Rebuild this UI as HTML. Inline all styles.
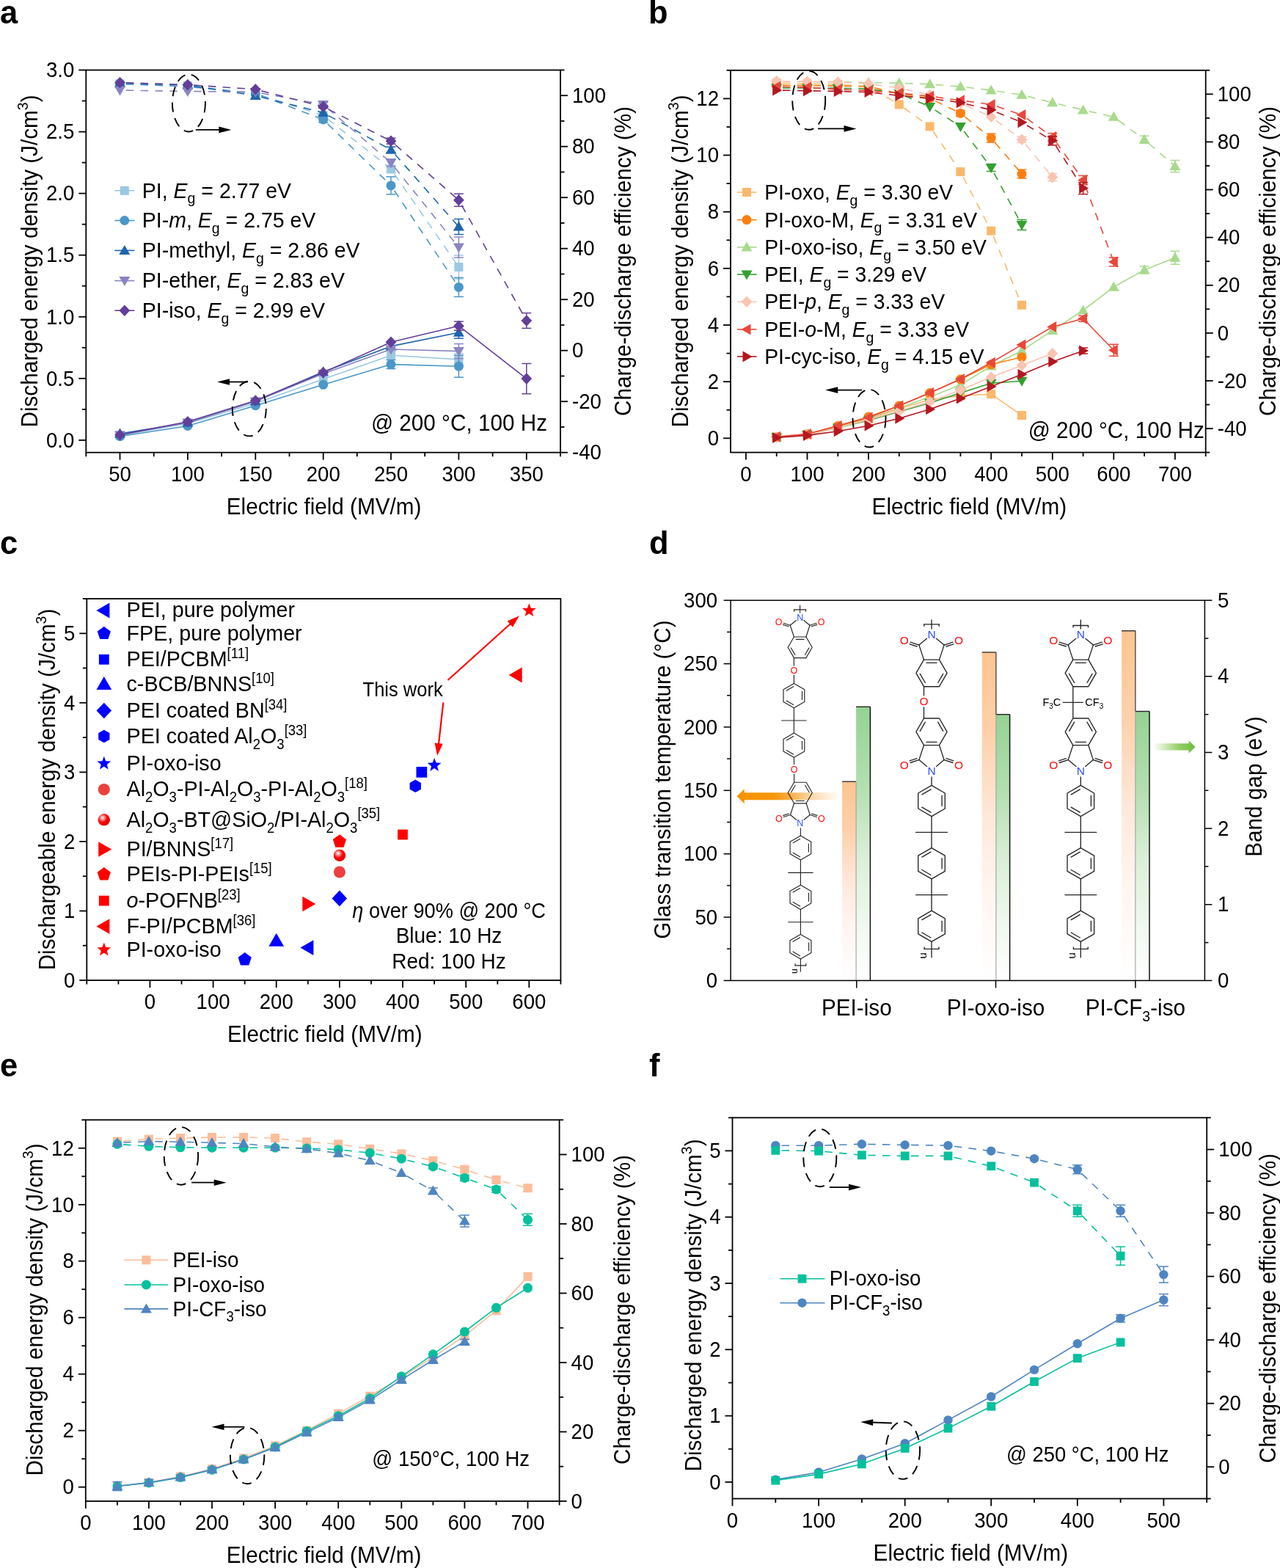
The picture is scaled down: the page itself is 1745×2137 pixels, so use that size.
<!DOCTYPE html>
<html><head><meta charset="utf-8"><title>Figure</title>
<style>html,body{margin:0;padding:0;background:#fff;} svg{display:block;} text{font-family:'Liberation Sans', Arial, Helvetica, sans-serif;fill:#000;}</style>
</head><body>
<svg width="1745" height="2137" viewBox="0 0 1745 2137">
<defs>
<radialGradient id="gSph" cx="0.38" cy="0.33" r="0.7"><stop offset="0" stop-color="#ffffff"/><stop offset="0.28" stop-color="#ff8080"/><stop offset="0.55" stop-color="#ff0000"/><stop offset="1" stop-color="#e00000"/></radialGradient>
<linearGradient id="gOr" x1="0" y1="0" x2="0" y2="1"><stop offset="0" stop-color="#fdc490"/><stop offset="0.25" stop-color="#fdd1ac"/><stop offset="0.5" stop-color="#fee8da"/><stop offset="0.72" stop-color="#fff5f0"/><stop offset="1" stop-color="#ffffff"/></linearGradient>
<linearGradient id="gGr" x1="0" y1="0" x2="0" y2="1"><stop offset="0" stop-color="#94d393"/><stop offset="0.3" stop-color="#b5dfb2"/><stop offset="0.55" stop-color="#dbefd8"/><stop offset="0.78" stop-color="#eff8ee"/><stop offset="1" stop-color="#ffffff"/></linearGradient>
<linearGradient id="gArO" x1="1" y1="0" x2="0" y2="0"><stop offset="0" stop-color="#f8a030" stop-opacity="0"/><stop offset="0.3" stop-color="#f8a030" stop-opacity="0.45"/><stop offset="0.5" stop-color="#f89a18" stop-opacity="0.85"/><stop offset="0.65" stop-color="#f7960c"/><stop offset="1" stop-color="#f79300"/></linearGradient>
<linearGradient id="gArG" x1="0" y1="0" x2="1" y2="0"><stop offset="0" stop-color="#7cc242" stop-opacity="0"/><stop offset="0.6" stop-color="#7cc242" stop-opacity="0.8"/><stop offset="1" stop-color="#6cbb3c"/></linearGradient>
</defs>
<rect width="1745" height="2137" fill="#fff"/>
<text transform="translate(0,32) scale(1,1.04)" font-size="43.5" font-weight="bold">a</text>
<rect x="117.3" y="95.5" width="646.7" height="521.2" fill="none" stroke="#000" stroke-width="1.8"/>
<line x1="117.3" y1="616.7" x2="117.3" y2="622.2" stroke="#000" stroke-width="1.8" />
<line x1="209.7" y1="616.7" x2="209.7" y2="622.2" stroke="#000" stroke-width="1.8" />
<line x1="302.1" y1="616.7" x2="302.1" y2="622.2" stroke="#000" stroke-width="1.8" />
<line x1="394.5" y1="616.7" x2="394.5" y2="622.2" stroke="#000" stroke-width="1.8" />
<line x1="486.8" y1="616.7" x2="486.8" y2="622.2" stroke="#000" stroke-width="1.8" />
<line x1="579.2" y1="616.7" x2="579.2" y2="622.2" stroke="#000" stroke-width="1.8" />
<line x1="671.6" y1="616.7" x2="671.6" y2="622.2" stroke="#000" stroke-width="1.8" />
<line x1="764" y1="616.7" x2="764" y2="622.2" stroke="#000" stroke-width="1.8" />
<line x1="163.5" y1="616.7" x2="163.5" y2="626.7" stroke="#000" stroke-width="1.8" />
<text transform="translate(163.5,655.7) scale(1,1.06)" font-size="27.6" text-anchor="middle" >50</text>
<line x1="255.9" y1="616.7" x2="255.9" y2="626.7" stroke="#000" stroke-width="1.8" />
<text transform="translate(255.9,655.7) scale(1,1.06)" font-size="27.6" text-anchor="middle" >100</text>
<line x1="348.3" y1="616.7" x2="348.3" y2="626.7" stroke="#000" stroke-width="1.8" />
<text transform="translate(348.3,655.7) scale(1,1.06)" font-size="27.6" text-anchor="middle" >150</text>
<line x1="440.7" y1="616.7" x2="440.7" y2="626.7" stroke="#000" stroke-width="1.8" />
<text transform="translate(440.7,655.7) scale(1,1.06)" font-size="27.6" text-anchor="middle" >200</text>
<line x1="533" y1="616.7" x2="533" y2="626.7" stroke="#000" stroke-width="1.8" />
<text transform="translate(533,655.7) scale(1,1.06)" font-size="27.6" text-anchor="middle" >250</text>
<line x1="625.4" y1="616.7" x2="625.4" y2="626.7" stroke="#000" stroke-width="1.8" />
<text transform="translate(625.4,655.7) scale(1,1.06)" font-size="27.6" text-anchor="middle" >300</text>
<line x1="717.8" y1="616.7" x2="717.8" y2="626.7" stroke="#000" stroke-width="1.8" />
<text transform="translate(717.8,655.7) scale(1,1.06)" font-size="27.6" text-anchor="middle" >350</text>
<line x1="117.3" y1="557.9" x2="111.8" y2="557.9" stroke="#000" stroke-width="1.8" />
<line x1="117.3" y1="473.8" x2="111.8" y2="473.8" stroke="#000" stroke-width="1.8" />
<line x1="117.3" y1="389.7" x2="111.8" y2="389.7" stroke="#000" stroke-width="1.8" />
<line x1="117.3" y1="305.7" x2="111.8" y2="305.7" stroke="#000" stroke-width="1.8" />
<line x1="117.3" y1="221.6" x2="111.8" y2="221.6" stroke="#000" stroke-width="1.8" />
<line x1="117.3" y1="137.5" x2="111.8" y2="137.5" stroke="#000" stroke-width="1.8" />
<line x1="117.3" y1="599.9" x2="107.3" y2="599.9" stroke="#000" stroke-width="1.8" />
<text transform="translate(101.3,609.6) scale(1,1.06)" font-size="27.6" text-anchor="end" >0.0</text>
<line x1="117.3" y1="515.8" x2="107.3" y2="515.8" stroke="#000" stroke-width="1.8" />
<text transform="translate(101.3,525.5) scale(1,1.06)" font-size="27.6" text-anchor="end" >0.5</text>
<line x1="117.3" y1="431.8" x2="107.3" y2="431.8" stroke="#000" stroke-width="1.8" />
<text transform="translate(101.3,441.5) scale(1,1.06)" font-size="27.6" text-anchor="end" >1.0</text>
<line x1="117.3" y1="347.7" x2="107.3" y2="347.7" stroke="#000" stroke-width="1.8" />
<text transform="translate(101.3,357.4) scale(1,1.06)" font-size="27.6" text-anchor="end" >1.5</text>
<line x1="117.3" y1="263.6" x2="107.3" y2="263.6" stroke="#000" stroke-width="1.8" />
<text transform="translate(101.3,273.3) scale(1,1.06)" font-size="27.6" text-anchor="end" >2.0</text>
<line x1="117.3" y1="179.6" x2="107.3" y2="179.6" stroke="#000" stroke-width="1.8" />
<text transform="translate(101.3,189.3) scale(1,1.06)" font-size="27.6" text-anchor="end" >2.5</text>
<line x1="117.3" y1="95.5" x2="107.3" y2="95.5" stroke="#000" stroke-width="1.8" />
<text transform="translate(101.3,105.2) scale(1,1.06)" font-size="27.6" text-anchor="end" >3.0</text>
<line x1="764" y1="582" x2="769.5" y2="582" stroke="#000" stroke-width="1.8" />
<line x1="764" y1="512.5" x2="769.5" y2="512.5" stroke="#000" stroke-width="1.8" />
<line x1="764" y1="443" x2="769.5" y2="443" stroke="#000" stroke-width="1.8" />
<line x1="764" y1="373.5" x2="769.5" y2="373.5" stroke="#000" stroke-width="1.8" />
<line x1="764" y1="304" x2="769.5" y2="304" stroke="#000" stroke-width="1.8" />
<line x1="764" y1="234.5" x2="769.5" y2="234.5" stroke="#000" stroke-width="1.8" />
<line x1="764" y1="165" x2="769.5" y2="165" stroke="#000" stroke-width="1.8" />
<line x1="764" y1="95.5" x2="769.5" y2="95.5" stroke="#000" stroke-width="1.8" />
<line x1="764" y1="616.7" x2="774" y2="616.7" stroke="#000" stroke-width="1.8" />
<text transform="translate(780,626.4) scale(1,1.06)" font-size="27.6" text-anchor="start" >-40</text>
<line x1="764" y1="547.2" x2="774" y2="547.2" stroke="#000" stroke-width="1.8" />
<text transform="translate(780,556.9) scale(1,1.06)" font-size="27.6" text-anchor="start" >-20</text>
<line x1="764" y1="477.7" x2="774" y2="477.7" stroke="#000" stroke-width="1.8" />
<text transform="translate(780,487.4) scale(1,1.06)" font-size="27.6" text-anchor="start" >0</text>
<line x1="764" y1="408.2" x2="774" y2="408.2" stroke="#000" stroke-width="1.8" />
<text transform="translate(780,417.9) scale(1,1.06)" font-size="27.6" text-anchor="start" >20</text>
<line x1="764" y1="338.7" x2="774" y2="338.7" stroke="#000" stroke-width="1.8" />
<text transform="translate(780,348.4) scale(1,1.06)" font-size="27.6" text-anchor="start" >40</text>
<line x1="764" y1="269.2" x2="774" y2="269.2" stroke="#000" stroke-width="1.8" />
<text transform="translate(780,278.9) scale(1,1.06)" font-size="27.6" text-anchor="start" >60</text>
<line x1="764" y1="199.7" x2="774" y2="199.7" stroke="#000" stroke-width="1.8" />
<text transform="translate(780,209.4) scale(1,1.06)" font-size="27.6" text-anchor="start" >80</text>
<line x1="764" y1="130.2" x2="774" y2="130.2" stroke="#000" stroke-width="1.8" />
<text transform="translate(780,139.9) scale(1,1.06)" font-size="27.6" text-anchor="start" >100</text>
<text transform="translate(441.6,701.2) scale(1,1.06)" font-size="29.7" text-anchor="middle" >Electric field (MV/m)</text>
<text transform="translate(50.6,356) rotate(-90) scale(1,1.06)" font-size="29.7" text-anchor="middle">Discharged energy density (J/cm<tspan font-size="19.5" dy="-12">3</tspan><tspan dy="12">)</tspan></text>
<text transform="translate(859.7,356) rotate(-90) scale(1,1.06)" font-size="29.7" text-anchor="middle">Charge-discharge efficiency (%)</text>
<path d="M163.5,114.3L255.9,117M255.9,117L348.3,127.4M348.3,127.4L440.7,157.4M440.7,157.4L533,230.4M533,230.4L625.4,364" fill="none" stroke="#9cc8e2" stroke-width="1.6" stroke-dasharray="10.5,9.3" stroke-dashoffset="11.5"/>
<line x1="440.7" y1="155.4" x2="440.7" y2="159.4" stroke="#9cc8e2" stroke-width="1.5" />
<line x1="434.2" y1="155.4" x2="447.2" y2="155.4" stroke="#9cc8e2" stroke-width="1.5" />
<line x1="434.2" y1="159.4" x2="447.2" y2="159.4" stroke="#9cc8e2" stroke-width="1.5" />
<line x1="533" y1="225.4" x2="533" y2="235.4" stroke="#9cc8e2" stroke-width="1.5" />
<line x1="526.5" y1="225.4" x2="539.5" y2="225.4" stroke="#9cc8e2" stroke-width="1.5" />
<line x1="526.5" y1="235.4" x2="539.5" y2="235.4" stroke="#9cc8e2" stroke-width="1.5" />
<line x1="625.4" y1="348" x2="625.4" y2="380" stroke="#9cc8e2" stroke-width="1.5" />
<line x1="618.9" y1="348" x2="631.9" y2="348" stroke="#9cc8e2" stroke-width="1.5" />
<line x1="618.9" y1="380" x2="631.9" y2="380" stroke="#9cc8e2" stroke-width="1.5" />
<rect x="157.5" y="108.3" width="12" height="12" fill="#9cc8e2"/>
<rect x="249.9" y="111" width="12" height="12" fill="#9cc8e2"/>
<rect x="342.3" y="121.4" width="12" height="12" fill="#9cc8e2"/>
<rect x="434.7" y="151.4" width="12" height="12" fill="#9cc8e2"/>
<rect x="527.1" y="224.4" width="12" height="12" fill="#9cc8e2"/>
<rect x="619.4" y="358" width="12" height="12" fill="#9cc8e2"/>
<path d="M163.5,114.3L255.9,118M255.9,118L348.3,127.4M348.3,127.4L440.7,163M440.7,163L533,252.9M533,252.9L625.4,391.4" fill="none" stroke="#4a97c9" stroke-width="1.6" stroke-dasharray="10.5,9.3" stroke-dashoffset="11.5"/>
<line x1="440.7" y1="159" x2="440.7" y2="167" stroke="#4a97c9" stroke-width="1.5" />
<line x1="434.2" y1="159" x2="447.2" y2="159" stroke="#4a97c9" stroke-width="1.5" />
<line x1="434.2" y1="167" x2="447.2" y2="167" stroke="#4a97c9" stroke-width="1.5" />
<line x1="533" y1="240.9" x2="533" y2="264.9" stroke="#4a97c9" stroke-width="1.5" />
<line x1="526.5" y1="240.9" x2="539.5" y2="240.9" stroke="#4a97c9" stroke-width="1.5" />
<line x1="526.5" y1="264.9" x2="539.5" y2="264.9" stroke="#4a97c9" stroke-width="1.5" />
<line x1="625.4" y1="378.4" x2="625.4" y2="404.4" stroke="#4a97c9" stroke-width="1.5" />
<line x1="618.9" y1="378.4" x2="631.9" y2="378.4" stroke="#4a97c9" stroke-width="1.5" />
<line x1="618.9" y1="404.4" x2="631.9" y2="404.4" stroke="#4a97c9" stroke-width="1.5" />
<circle cx="163.5" cy="114.3" r="6.5" fill="#4a97c9"/>
<circle cx="255.9" cy="118" r="6.5" fill="#4a97c9"/>
<circle cx="348.3" cy="127.4" r="6.5" fill="#4a97c9"/>
<circle cx="440.7" cy="163" r="6.5" fill="#4a97c9"/>
<circle cx="533" cy="252.9" r="6.5" fill="#4a97c9"/>
<circle cx="625.4" cy="391.4" r="6.5" fill="#4a97c9"/>
<path d="M163.5,113.2L255.9,116M255.9,116L348.3,130.4M348.3,130.4L440.7,153.6M440.7,153.6L533,204.2M533,204.2L625.4,309" fill="none" stroke="#1f64ae" stroke-width="1.6" stroke-dasharray="10.5,9.3" stroke-dashoffset="11.5"/>
<line x1="533" y1="200.2" x2="533" y2="208.2" stroke="#1f64ae" stroke-width="1.5" />
<line x1="526.5" y1="200.2" x2="539.5" y2="200.2" stroke="#1f64ae" stroke-width="1.5" />
<line x1="526.5" y1="208.2" x2="539.5" y2="208.2" stroke="#1f64ae" stroke-width="1.5" />
<line x1="625.4" y1="298.5" x2="625.4" y2="319.5" stroke="#1f64ae" stroke-width="1.5" />
<line x1="618.9" y1="298.5" x2="631.9" y2="298.5" stroke="#1f64ae" stroke-width="1.5" />
<line x1="618.9" y1="319.5" x2="631.9" y2="319.5" stroke="#1f64ae" stroke-width="1.5" />
<polygon points="163.5,105.7 156,118.7 171,118.7" fill="#1f64ae"/>
<polygon points="255.9,108.5 248.4,121.5 263.4,121.5" fill="#1f64ae"/>
<polygon points="348.3,122.9 340.8,135.9 355.7,135.9" fill="#1f64ae"/>
<polygon points="440.7,146.1 433.2,159.1 448.1,159.1" fill="#1f64ae"/>
<polygon points="533,196.7 525.6,209.7 540.5,209.7" fill="#1f64ae"/>
<polygon points="625.4,301.5 617.9,314.5 632.9,314.5" fill="#1f64ae"/>
<path d="M163.5,123L255.9,124.4M255.9,124.4L348.3,125.6M348.3,125.6L440.7,142.4M440.7,142.4L533,221.8M533,221.8L625.4,337" fill="none" stroke="#8a85c2" stroke-width="1.6" stroke-dasharray="10.5,9.3" stroke-dashoffset="11.5"/>
<line x1="440.7" y1="139.4" x2="440.7" y2="145.4" stroke="#8a85c2" stroke-width="1.5" />
<line x1="434.2" y1="139.4" x2="447.2" y2="139.4" stroke="#8a85c2" stroke-width="1.5" />
<line x1="434.2" y1="145.4" x2="447.2" y2="145.4" stroke="#8a85c2" stroke-width="1.5" />
<line x1="533" y1="216.8" x2="533" y2="226.8" stroke="#8a85c2" stroke-width="1.5" />
<line x1="526.5" y1="216.8" x2="539.5" y2="216.8" stroke="#8a85c2" stroke-width="1.5" />
<line x1="526.5" y1="226.8" x2="539.5" y2="226.8" stroke="#8a85c2" stroke-width="1.5" />
<line x1="625.4" y1="323" x2="625.4" y2="351" stroke="#8a85c2" stroke-width="1.5" />
<line x1="618.9" y1="323" x2="631.9" y2="323" stroke="#8a85c2" stroke-width="1.5" />
<line x1="618.9" y1="351" x2="631.9" y2="351" stroke="#8a85c2" stroke-width="1.5" />
<polygon points="163.5,130.5 156,117.5 171,117.5" fill="#8a85c2"/>
<polygon points="255.9,131.9 248.4,118.9 263.4,118.9" fill="#8a85c2"/>
<polygon points="348.3,133.1 340.8,120.1 355.7,120.1" fill="#8a85c2"/>
<polygon points="440.7,149.9 433.2,136.9 448.1,136.9" fill="#8a85c2"/>
<polygon points="533,229.3 525.6,216.3 540.5,216.3" fill="#8a85c2"/>
<polygon points="625.4,344.5 617.9,331.5 632.9,331.5" fill="#8a85c2"/>
<path d="M163.5,112.5L255.9,115.5M255.9,115.5L348.3,121.8M348.3,121.8L440.7,145.4M440.7,145.4L533,192.2M533,192.2L625.4,272.7M625.4,272.7L717.8,437" fill="none" stroke="#623f99" stroke-width="1.6" stroke-dasharray="10.5,9.3" stroke-dashoffset="11.5"/>
<line x1="440.7" y1="143.4" x2="440.7" y2="147.4" stroke="#623f99" stroke-width="1.5" />
<line x1="434.2" y1="143.4" x2="447.2" y2="143.4" stroke="#623f99" stroke-width="1.5" />
<line x1="434.2" y1="147.4" x2="447.2" y2="147.4" stroke="#623f99" stroke-width="1.5" />
<line x1="533" y1="188.2" x2="533" y2="196.2" stroke="#623f99" stroke-width="1.5" />
<line x1="526.5" y1="188.2" x2="539.5" y2="188.2" stroke="#623f99" stroke-width="1.5" />
<line x1="526.5" y1="196.2" x2="539.5" y2="196.2" stroke="#623f99" stroke-width="1.5" />
<line x1="625.4" y1="264.1" x2="625.4" y2="281.3" stroke="#623f99" stroke-width="1.5" />
<line x1="618.9" y1="264.1" x2="631.9" y2="264.1" stroke="#623f99" stroke-width="1.5" />
<line x1="618.9" y1="281.3" x2="631.9" y2="281.3" stroke="#623f99" stroke-width="1.5" />
<line x1="717.8" y1="426.6" x2="717.8" y2="447.4" stroke="#623f99" stroke-width="1.5" />
<line x1="711.3" y1="426.6" x2="724.3" y2="426.6" stroke="#623f99" stroke-width="1.5" />
<line x1="711.3" y1="447.4" x2="724.3" y2="447.4" stroke="#623f99" stroke-width="1.5" />
<polygon points="163.5,104.7 170.9,112.5 163.5,120.3 156.1,112.5" fill="#623f99"/>
<polygon points="255.9,107.7 263.3,115.5 255.9,123.3 248.5,115.5" fill="#623f99"/>
<polygon points="348.3,114 355.7,121.8 348.3,129.6 340.9,121.8" fill="#623f99"/>
<polygon points="440.7,137.6 448.1,145.4 440.7,153.2 433.2,145.4" fill="#623f99"/>
<polygon points="533,184.4 540.4,192.2 533,200 525.6,192.2" fill="#623f99"/>
<polygon points="625.4,264.9 632.8,272.7 625.4,280.5 618,272.7" fill="#623f99"/>
<polygon points="717.8,429.2 725.2,437 717.8,444.8 710.4,437" fill="#623f99"/>
<polyline points="163.5,593.5 255.9,577 348.3,549.8 440.7,516.8 533,484.2 625.4,489.9" fill="none" stroke="#9cc8e2" stroke-width="1.6" stroke-linejoin="round"/>
<line x1="533" y1="478.2" x2="533" y2="490.2" stroke="#9cc8e2" stroke-width="1.5" />
<line x1="526.5" y1="478.2" x2="539.5" y2="478.2" stroke="#9cc8e2" stroke-width="1.5" />
<line x1="526.5" y1="490.2" x2="539.5" y2="490.2" stroke="#9cc8e2" stroke-width="1.5" />
<line x1="625.4" y1="481.9" x2="625.4" y2="497.9" stroke="#9cc8e2" stroke-width="1.5" />
<line x1="618.9" y1="481.9" x2="631.9" y2="481.9" stroke="#9cc8e2" stroke-width="1.5" />
<line x1="618.9" y1="497.9" x2="631.9" y2="497.9" stroke="#9cc8e2" stroke-width="1.5" />
<rect x="157.5" y="587.5" width="12" height="12" fill="#9cc8e2"/>
<rect x="249.9" y="571" width="12" height="12" fill="#9cc8e2"/>
<rect x="342.3" y="543.8" width="12" height="12" fill="#9cc8e2"/>
<rect x="434.7" y="510.8" width="12" height="12" fill="#9cc8e2"/>
<rect x="527.1" y="478.2" width="12" height="12" fill="#9cc8e2"/>
<rect x="619.4" y="483.9" width="12" height="12" fill="#9cc8e2"/>
<polyline points="163.5,594.7 255.9,580.5 348.3,552.7 440.7,524.3 533,496.6 625.4,499.2" fill="none" stroke="#4a97c9" stroke-width="1.6" stroke-linejoin="round"/>
<line x1="533" y1="490.6" x2="533" y2="502.6" stroke="#4a97c9" stroke-width="1.5" />
<line x1="526.5" y1="490.6" x2="539.5" y2="490.6" stroke="#4a97c9" stroke-width="1.5" />
<line x1="526.5" y1="502.6" x2="539.5" y2="502.6" stroke="#4a97c9" stroke-width="1.5" />
<line x1="625.4" y1="484.2" x2="625.4" y2="514.2" stroke="#4a97c9" stroke-width="1.5" />
<line x1="618.9" y1="484.2" x2="631.9" y2="484.2" stroke="#4a97c9" stroke-width="1.5" />
<line x1="618.9" y1="514.2" x2="631.9" y2="514.2" stroke="#4a97c9" stroke-width="1.5" />
<circle cx="163.5" cy="594.7" r="6.5" fill="#4a97c9"/>
<circle cx="255.9" cy="580.5" r="6.5" fill="#4a97c9"/>
<circle cx="348.3" cy="552.7" r="6.5" fill="#4a97c9"/>
<circle cx="440.7" cy="524.3" r="6.5" fill="#4a97c9"/>
<circle cx="533" cy="496.6" r="6.5" fill="#4a97c9"/>
<circle cx="625.4" cy="499.2" r="6.5" fill="#4a97c9"/>
<polyline points="163.5,591 255.9,576 348.3,546.8 440.7,506.7 533,471.9 625.4,453.2" fill="none" stroke="#1f64ae" stroke-width="1.6" stroke-linejoin="round"/>
<line x1="625.4" y1="445.2" x2="625.4" y2="461.2" stroke="#1f64ae" stroke-width="1.5" />
<line x1="618.9" y1="445.2" x2="631.9" y2="445.2" stroke="#1f64ae" stroke-width="1.5" />
<line x1="618.9" y1="461.2" x2="631.9" y2="461.2" stroke="#1f64ae" stroke-width="1.5" />
<polygon points="163.5,583.5 156,596.5 171,596.5" fill="#1f64ae"/>
<polygon points="255.9,568.5 248.4,581.5 263.4,581.5" fill="#1f64ae"/>
<polygon points="348.3,539.3 340.8,552.3 355.7,552.3" fill="#1f64ae"/>
<polygon points="440.7,499.2 433.2,512.2 448.1,512.2" fill="#1f64ae"/>
<polygon points="533,464.4 525.6,477.4 540.5,477.4" fill="#1f64ae"/>
<polygon points="625.4,445.7 617.9,458.7 632.9,458.7" fill="#1f64ae"/>
<polyline points="163.5,593 255.9,576 348.3,547 440.7,509.3 533,476 625.4,478.6" fill="none" stroke="#8a85c2" stroke-width="1.6" stroke-linejoin="round"/>
<line x1="625.4" y1="468.6" x2="625.4" y2="488.6" stroke="#8a85c2" stroke-width="1.5" />
<line x1="618.9" y1="468.6" x2="631.9" y2="468.6" stroke="#8a85c2" stroke-width="1.5" />
<line x1="618.9" y1="488.6" x2="631.9" y2="488.6" stroke="#8a85c2" stroke-width="1.5" />
<polygon points="163.5,600.5 156,587.5 171,587.5" fill="#8a85c2"/>
<polygon points="255.9,583.5 248.4,570.5 263.4,570.5" fill="#8a85c2"/>
<polygon points="348.3,554.5 340.8,541.5 355.7,541.5" fill="#8a85c2"/>
<polygon points="440.7,516.8 433.2,503.8 448.1,503.8" fill="#8a85c2"/>
<polygon points="533,483.5 525.6,470.5 540.5,470.5" fill="#8a85c2"/>
<polygon points="625.4,486.1 617.9,473.1 632.9,473.1" fill="#8a85c2"/>
<polyline points="163.5,592.8 255.9,574.8 348.3,546 440.7,507.8 533,466.3 625.4,444.2 717.8,516.1" fill="none" stroke="#623f99" stroke-width="1.6" stroke-linejoin="round"/>
<line x1="625.4" y1="438.2" x2="625.4" y2="450.2" stroke="#623f99" stroke-width="1.5" />
<line x1="618.9" y1="438.2" x2="631.9" y2="438.2" stroke="#623f99" stroke-width="1.5" />
<line x1="618.9" y1="450.2" x2="631.9" y2="450.2" stroke="#623f99" stroke-width="1.5" />
<line x1="717.8" y1="495.5" x2="717.8" y2="536.7" stroke="#623f99" stroke-width="1.5" />
<line x1="711.3" y1="495.5" x2="724.3" y2="495.5" stroke="#623f99" stroke-width="1.5" />
<line x1="711.3" y1="536.7" x2="724.3" y2="536.7" stroke="#623f99" stroke-width="1.5" />
<polygon points="163.5,585 170.9,592.8 163.5,600.6 156.1,592.8" fill="#623f99"/>
<polygon points="255.9,567 263.3,574.8 255.9,582.6 248.5,574.8" fill="#623f99"/>
<polygon points="348.3,538.2 355.7,546 348.3,553.8 340.9,546" fill="#623f99"/>
<polygon points="440.7,500 448.1,507.8 440.7,515.6 433.2,507.8" fill="#623f99"/>
<polygon points="533,458.5 540.4,466.3 533,474.1 525.6,466.3" fill="#623f99"/>
<polygon points="625.4,436.4 632.8,444.2 625.4,452 618,444.2" fill="#623f99"/>
<polygon points="717.8,508.3 725.2,516.1 717.8,523.9 710.4,516.1" fill="#623f99"/>
<ellipse cx="257.4" cy="140.5" rx="22.5" ry="39" fill="none" stroke="#000" stroke-width="1.9" stroke-dasharray="13,8.5"/>
<line x1="266.8" y1="176.9" x2="300.4" y2="176.9" stroke="#000" stroke-width="1.8" />
<polygon points="315.4,176.9 298.4,181.2 298.4,172.6" fill="#000"/>
<ellipse cx="339.8" cy="557" rx="23" ry="37.4" fill="none" stroke="#000" stroke-width="1.9" stroke-dasharray="13,8.5"/>
<line x1="338" y1="520.5" x2="311" y2="520.5" stroke="#000" stroke-width="1.8" />
<polygon points="296,520.5 313,516.2 313,524.8" fill="#000"/>
<line x1="156.3" y1="259.8" x2="183.4" y2="259.8" stroke="#9cc8e2" stroke-width="1.6" />
<rect x="163.8" y="253.8" width="12" height="12" fill="#9cc8e2"/>
<text transform="translate(193.8,269.5) scale(1,1.06)" font-size="28.5" text-anchor="start" >PI, <tspan font-style="italic">E</tspan><tspan font-size="19.5" dy="7.4">g</tspan><tspan dy="-7.4"> = 2.77 eV</tspan></text>
<line x1="156.3" y1="300.5" x2="183.4" y2="300.5" stroke="#4a97c9" stroke-width="1.6" />
<circle cx="169.8" cy="300.5" r="6.5" fill="#4a97c9"/>
<text transform="translate(193.8,310.2) scale(1,1.06)" font-size="28.5" text-anchor="start" >PI-<tspan font-style="italic">m</tspan>, <tspan font-style="italic">E</tspan><tspan font-size="19.5" dy="7.4">g</tspan><tspan dy="-7.4"> = 2.75 eV</tspan></text>
<line x1="156.3" y1="341.4" x2="183.4" y2="341.4" stroke="#1f64ae" stroke-width="1.6" />
<polygon points="169.8,333.9 162.3,346.9 177.3,346.9" fill="#1f64ae"/>
<text transform="translate(193.8,351.1) scale(1,1.06)" font-size="28.5" text-anchor="start" >PI-methyl, <tspan font-style="italic">E</tspan><tspan font-size="19.5" dy="7.4">g</tspan><tspan dy="-7.4"> = 2.86 eV</tspan></text>
<line x1="156.3" y1="382.6" x2="183.4" y2="382.6" stroke="#8a85c2" stroke-width="1.6" />
<polygon points="169.8,390.1 162.3,377.1 177.3,377.1" fill="#8a85c2"/>
<text transform="translate(193.8,392.3) scale(1,1.06)" font-size="28.5" text-anchor="start" >PI-ether, <tspan font-style="italic">E</tspan><tspan font-size="19.5" dy="7.4">g</tspan><tspan dy="-7.4"> = 2.83 eV</tspan></text>
<line x1="156.3" y1="423.2" x2="183.4" y2="423.2" stroke="#623f99" stroke-width="1.6" />
<polygon points="169.8,415.4 177.2,423.2 169.8,431 162.4,423.2" fill="#623f99"/>
<text transform="translate(193.8,432.9) scale(1,1.06)" font-size="28.5" text-anchor="start" >PI-iso, <tspan font-style="italic">E</tspan><tspan font-size="19.5" dy="7.4">g</tspan><tspan dy="-7.4"> = 2.99 eV</tspan></text>
<text transform="translate(746,586.5) scale(1,1.06)" font-size="29.7" text-anchor="end" >@ 200 °C, 100 Hz</text>
<text transform="translate(884,32) scale(1,1.04)" font-size="43.5" font-weight="bold">b</text>
<rect x="996" y="95.8" width="647.7" height="520.8" fill="none" stroke="#000" stroke-width="1.8"/>
<line x1="1058.7" y1="616.6" x2="1058.7" y2="622.1" stroke="#000" stroke-width="1.8" />
<line x1="1142.3" y1="616.6" x2="1142.3" y2="622.1" stroke="#000" stroke-width="1.8" />
<line x1="1225.8" y1="616.6" x2="1225.8" y2="622.1" stroke="#000" stroke-width="1.8" />
<line x1="1309.4" y1="616.6" x2="1309.4" y2="622.1" stroke="#000" stroke-width="1.8" />
<line x1="1393" y1="616.6" x2="1393" y2="622.1" stroke="#000" stroke-width="1.8" />
<line x1="1476.6" y1="616.6" x2="1476.6" y2="622.1" stroke="#000" stroke-width="1.8" />
<line x1="1560.1" y1="616.6" x2="1560.1" y2="622.1" stroke="#000" stroke-width="1.8" />
<line x1="1643.7" y1="616.6" x2="1643.7" y2="622.1" stroke="#000" stroke-width="1.8" />
<line x1="1016.9" y1="616.6" x2="1016.9" y2="626.6" stroke="#000" stroke-width="1.8" />
<text transform="translate(1016.9,655.6) scale(1,1.06)" font-size="27.6" text-anchor="middle" >0</text>
<line x1="1100.5" y1="616.6" x2="1100.5" y2="626.6" stroke="#000" stroke-width="1.8" />
<text transform="translate(1100.5,655.6) scale(1,1.06)" font-size="27.6" text-anchor="middle" >100</text>
<line x1="1184" y1="616.6" x2="1184" y2="626.6" stroke="#000" stroke-width="1.8" />
<text transform="translate(1184,655.6) scale(1,1.06)" font-size="27.6" text-anchor="middle" >200</text>
<line x1="1267.6" y1="616.6" x2="1267.6" y2="626.6" stroke="#000" stroke-width="1.8" />
<text transform="translate(1267.6,655.6) scale(1,1.06)" font-size="27.6" text-anchor="middle" >300</text>
<line x1="1351.2" y1="616.6" x2="1351.2" y2="626.6" stroke="#000" stroke-width="1.8" />
<text transform="translate(1351.2,655.6) scale(1,1.06)" font-size="27.6" text-anchor="middle" >400</text>
<line x1="1434.8" y1="616.6" x2="1434.8" y2="626.6" stroke="#000" stroke-width="1.8" />
<text transform="translate(1434.8,655.6) scale(1,1.06)" font-size="27.6" text-anchor="middle" >500</text>
<line x1="1518.3" y1="616.6" x2="1518.3" y2="626.6" stroke="#000" stroke-width="1.8" />
<text transform="translate(1518.3,655.6) scale(1,1.06)" font-size="27.6" text-anchor="middle" >600</text>
<line x1="1601.9" y1="616.6" x2="1601.9" y2="626.6" stroke="#000" stroke-width="1.8" />
<text transform="translate(1601.9,655.6) scale(1,1.06)" font-size="27.6" text-anchor="middle" >700</text>
<line x1="996" y1="558.7" x2="990.5" y2="558.7" stroke="#000" stroke-width="1.8" />
<line x1="996" y1="481.6" x2="990.5" y2="481.6" stroke="#000" stroke-width="1.8" />
<line x1="996" y1="404.4" x2="990.5" y2="404.4" stroke="#000" stroke-width="1.8" />
<line x1="996" y1="327.3" x2="990.5" y2="327.3" stroke="#000" stroke-width="1.8" />
<line x1="996" y1="250.1" x2="990.5" y2="250.1" stroke="#000" stroke-width="1.8" />
<line x1="996" y1="173" x2="990.5" y2="173" stroke="#000" stroke-width="1.8" />
<line x1="996" y1="95.8" x2="990.5" y2="95.8" stroke="#000" stroke-width="1.8" />
<line x1="996" y1="597.3" x2="986" y2="597.3" stroke="#000" stroke-width="1.8" />
<text transform="translate(980,607) scale(1,1.06)" font-size="27.6" text-anchor="end" >0</text>
<line x1="996" y1="520.2" x2="986" y2="520.2" stroke="#000" stroke-width="1.8" />
<text transform="translate(980,529.9) scale(1,1.06)" font-size="27.6" text-anchor="end" >2</text>
<line x1="996" y1="443" x2="986" y2="443" stroke="#000" stroke-width="1.8" />
<text transform="translate(980,452.7) scale(1,1.06)" font-size="27.6" text-anchor="end" >4</text>
<line x1="996" y1="365.8" x2="986" y2="365.8" stroke="#000" stroke-width="1.8" />
<text transform="translate(980,375.5) scale(1,1.06)" font-size="27.6" text-anchor="end" >6</text>
<line x1="996" y1="288.7" x2="986" y2="288.7" stroke="#000" stroke-width="1.8" />
<text transform="translate(980,298.4) scale(1,1.06)" font-size="27.6" text-anchor="end" >8</text>
<line x1="996" y1="211.5" x2="986" y2="211.5" stroke="#000" stroke-width="1.8" />
<text transform="translate(980,221.2) scale(1,1.06)" font-size="27.6" text-anchor="end" >10</text>
<line x1="996" y1="134.4" x2="986" y2="134.4" stroke="#000" stroke-width="1.8" />
<text transform="translate(980,144.1) scale(1,1.06)" font-size="27.6" text-anchor="end" >12</text>
<line x1="1643.7" y1="616.6" x2="1649.2" y2="616.6" stroke="#000" stroke-width="1.8" />
<line x1="1643.7" y1="551.5" x2="1649.2" y2="551.5" stroke="#000" stroke-width="1.8" />
<line x1="1643.7" y1="486.4" x2="1649.2" y2="486.4" stroke="#000" stroke-width="1.8" />
<line x1="1643.7" y1="421.3" x2="1649.2" y2="421.3" stroke="#000" stroke-width="1.8" />
<line x1="1643.7" y1="356.2" x2="1649.2" y2="356.2" stroke="#000" stroke-width="1.8" />
<line x1="1643.7" y1="291.1" x2="1649.2" y2="291.1" stroke="#000" stroke-width="1.8" />
<line x1="1643.7" y1="226" x2="1649.2" y2="226" stroke="#000" stroke-width="1.8" />
<line x1="1643.7" y1="160.9" x2="1649.2" y2="160.9" stroke="#000" stroke-width="1.8" />
<line x1="1643.7" y1="95.8" x2="1649.2" y2="95.8" stroke="#000" stroke-width="1.8" />
<line x1="1643.7" y1="584.1" x2="1653.7" y2="584.1" stroke="#000" stroke-width="1.8" />
<text transform="translate(1659.7,593.8) scale(1,1.06)" font-size="27.6" text-anchor="start" >-40</text>
<line x1="1643.7" y1="519" x2="1653.7" y2="519" stroke="#000" stroke-width="1.8" />
<text transform="translate(1659.7,528.7) scale(1,1.06)" font-size="27.6" text-anchor="start" >-20</text>
<line x1="1643.7" y1="453.9" x2="1653.7" y2="453.9" stroke="#000" stroke-width="1.8" />
<text transform="translate(1659.7,463.6) scale(1,1.06)" font-size="27.6" text-anchor="start" >0</text>
<line x1="1643.7" y1="388.8" x2="1653.7" y2="388.8" stroke="#000" stroke-width="1.8" />
<text transform="translate(1659.7,398.4) scale(1,1.06)" font-size="27.6" text-anchor="start" >20</text>
<line x1="1643.7" y1="323.6" x2="1653.7" y2="323.6" stroke="#000" stroke-width="1.8" />
<text transform="translate(1659.7,333.3) scale(1,1.06)" font-size="27.6" text-anchor="start" >40</text>
<line x1="1643.7" y1="258.5" x2="1653.7" y2="258.5" stroke="#000" stroke-width="1.8" />
<text transform="translate(1659.7,268.2) scale(1,1.06)" font-size="27.6" text-anchor="start" >60</text>
<line x1="1643.7" y1="193.4" x2="1653.7" y2="193.4" stroke="#000" stroke-width="1.8" />
<text transform="translate(1659.7,203.1) scale(1,1.06)" font-size="27.6" text-anchor="start" >80</text>
<line x1="1643.7" y1="128.3" x2="1653.7" y2="128.3" stroke="#000" stroke-width="1.8" />
<text transform="translate(1659.7,138) scale(1,1.06)" font-size="27.6" text-anchor="start" >100</text>
<text transform="translate(1321.4,701.2) scale(1,1.06)" font-size="29.7" text-anchor="middle" >Electric field (MV/m)</text>
<text transform="translate(938,356) rotate(-90) scale(1,1.06)" font-size="29.7" text-anchor="middle">Discharged energy density (J/cm<tspan font-size="19.5" dy="-12">3</tspan><tspan dy="12">)</tspan></text>
<text transform="translate(1739.2,356) rotate(-90) scale(1,1.06)" font-size="29.7" text-anchor="middle">Charge-discharge efficiency (%)</text>
<path d="M1058.7,110.6L1100.5,111.3M1100.5,111.3L1142.3,111.7M1142.3,111.7L1184,112.5M1184,112.5L1225.8,113.2M1225.8,113.2L1267.6,114.7M1267.6,114.7L1309.4,118.1M1309.4,118.1L1351.2,123M1351.2,123L1393,129.3M1393,129.3L1434.8,139.8M1434.8,139.8L1476.6,149.9M1476.6,149.9L1518.3,159.3M1518.3,159.3L1560.1,190.3M1560.1,190.3L1601.9,226.5" fill="none" stroke="#a8da8c" stroke-width="1.6" stroke-dasharray="10.5,9.3" stroke-dashoffset="11.5"/>
<line x1="1560.1" y1="185.3" x2="1560.1" y2="195.3" stroke="#a8da8c" stroke-width="1.5" />
<line x1="1553.6" y1="185.3" x2="1566.6" y2="185.3" stroke="#a8da8c" stroke-width="1.5" />
<line x1="1553.6" y1="195.3" x2="1566.6" y2="195.3" stroke="#a8da8c" stroke-width="1.5" />
<line x1="1601.9" y1="218.5" x2="1601.9" y2="234.5" stroke="#a8da8c" stroke-width="1.5" />
<line x1="1595.4" y1="218.5" x2="1608.4" y2="218.5" stroke="#a8da8c" stroke-width="1.5" />
<line x1="1595.4" y1="234.5" x2="1608.4" y2="234.5" stroke="#a8da8c" stroke-width="1.5" />
<polygon points="1058.7,103.1 1051.2,116.1 1066.2,116.1" fill="#a8da8c"/>
<polygon points="1100.5,103.8 1093,116.8 1107.9,116.8" fill="#a8da8c"/>
<polygon points="1142.3,104.2 1134.8,117.2 1149.7,117.2" fill="#a8da8c"/>
<polygon points="1184,105 1176.6,118 1191.5,118" fill="#a8da8c"/>
<polygon points="1225.8,105.7 1218.4,118.7 1233.3,118.7" fill="#a8da8c"/>
<polygon points="1267.6,107.2 1260.1,120.2 1275.1,120.2" fill="#a8da8c"/>
<polygon points="1309.4,110.6 1301.9,123.6 1316.9,123.6" fill="#a8da8c"/>
<polygon points="1351.2,115.5 1343.7,128.5 1358.7,128.5" fill="#a8da8c"/>
<polygon points="1393,121.8 1385.5,134.8 1400.5,134.8" fill="#a8da8c"/>
<polygon points="1434.8,132.3 1427.3,145.3 1442.2,145.3" fill="#a8da8c"/>
<polygon points="1476.6,142.4 1469.1,155.4 1484,155.4" fill="#a8da8c"/>
<polygon points="1518.3,151.8 1510.9,164.8 1525.8,164.8" fill="#a8da8c"/>
<polygon points="1560.1,182.8 1552.7,195.8 1567.6,195.8" fill="#a8da8c"/>
<polygon points="1601.9,219 1594.4,232 1609.4,232" fill="#a8da8c"/>
<path d="M1058.7,113.2L1100.5,114M1100.5,114L1142.3,115M1142.3,115L1184,118M1184,118L1225.8,142.4M1225.8,142.4L1267.6,172.4M1267.6,172.4L1309.4,234.1M1309.4,234.1L1351.2,314.6M1351.2,314.6L1393,415.8" fill="none" stroke="#f9b96c" stroke-width="1.6" stroke-dasharray="10.5,9.3" stroke-dashoffset="11.5"/>
<rect x="1052.7" y="107.2" width="12" height="12" fill="#f9b96c"/>
<rect x="1094.5" y="108" width="12" height="12" fill="#f9b96c"/>
<rect x="1136.3" y="109" width="12" height="12" fill="#f9b96c"/>
<rect x="1178.1" y="112" width="12" height="12" fill="#f9b96c"/>
<rect x="1219.8" y="136.4" width="12" height="12" fill="#f9b96c"/>
<rect x="1261.6" y="166.4" width="12" height="12" fill="#f9b96c"/>
<rect x="1303.4" y="228.1" width="12" height="12" fill="#f9b96c"/>
<rect x="1345.2" y="308.6" width="12" height="12" fill="#f9b96c"/>
<rect x="1387" y="409.8" width="12" height="12" fill="#f9b96c"/>
<path d="M1058.7,116L1100.5,116.5M1100.5,116.5L1142.3,117M1142.3,117L1184,118M1184,118L1225.8,127.4M1225.8,127.4L1267.6,134M1267.6,134L1309.4,154.4M1309.4,154.4L1351.2,188.1M1351.2,188.1L1393,237.1" fill="none" stroke="#fb7f10" stroke-width="1.6" stroke-dasharray="10.5,9.3" stroke-dashoffset="11.5"/>
<line x1="1309.4" y1="150.4" x2="1309.4" y2="158.4" stroke="#fb7f10" stroke-width="1.5" />
<line x1="1302.9" y1="150.4" x2="1315.9" y2="150.4" stroke="#fb7f10" stroke-width="1.5" />
<line x1="1302.9" y1="158.4" x2="1315.9" y2="158.4" stroke="#fb7f10" stroke-width="1.5" />
<line x1="1351.2" y1="182.1" x2="1351.2" y2="194.1" stroke="#fb7f10" stroke-width="1.5" />
<line x1="1344.7" y1="182.1" x2="1357.7" y2="182.1" stroke="#fb7f10" stroke-width="1.5" />
<line x1="1344.7" y1="194.1" x2="1357.7" y2="194.1" stroke="#fb7f10" stroke-width="1.5" />
<line x1="1393" y1="231.1" x2="1393" y2="243.1" stroke="#fb7f10" stroke-width="1.5" />
<line x1="1386.5" y1="231.1" x2="1399.5" y2="231.1" stroke="#fb7f10" stroke-width="1.5" />
<line x1="1386.5" y1="243.1" x2="1399.5" y2="243.1" stroke="#fb7f10" stroke-width="1.5" />
<circle cx="1058.7" cy="116" r="6.5" fill="#fb7f10"/>
<circle cx="1100.5" cy="116.5" r="6.5" fill="#fb7f10"/>
<circle cx="1142.3" cy="117" r="6.5" fill="#fb7f10"/>
<circle cx="1184" cy="118" r="6.5" fill="#fb7f10"/>
<circle cx="1225.8" cy="127.4" r="6.5" fill="#fb7f10"/>
<circle cx="1267.6" cy="134" r="6.5" fill="#fb7f10"/>
<circle cx="1309.4" cy="154.4" r="6.5" fill="#fb7f10"/>
<circle cx="1351.2" cy="188.1" r="6.5" fill="#fb7f10"/>
<circle cx="1393" cy="237.1" r="6.5" fill="#fb7f10"/>
<path d="M1058.7,120L1100.5,120M1100.5,120L1142.3,120M1142.3,120L1184,121M1184,121L1225.8,127.4M1225.8,127.4L1267.6,145.4M1267.6,145.4L1309.4,172.4M1309.4,172.4L1351.2,228.5M1351.2,228.5L1393,306.4" fill="none" stroke="#33a02f" stroke-width="1.6" stroke-dasharray="10.5,9.3" stroke-dashoffset="11.5"/>
<line x1="1351.2" y1="223.5" x2="1351.2" y2="233.5" stroke="#33a02f" stroke-width="1.5" />
<line x1="1344.7" y1="223.5" x2="1357.7" y2="223.5" stroke="#33a02f" stroke-width="1.5" />
<line x1="1344.7" y1="233.5" x2="1357.7" y2="233.5" stroke="#33a02f" stroke-width="1.5" />
<line x1="1393" y1="299.4" x2="1393" y2="313.4" stroke="#33a02f" stroke-width="1.5" />
<line x1="1386.5" y1="299.4" x2="1399.5" y2="299.4" stroke="#33a02f" stroke-width="1.5" />
<line x1="1386.5" y1="313.4" x2="1399.5" y2="313.4" stroke="#33a02f" stroke-width="1.5" />
<polygon points="1058.7,127.5 1051.2,114.5 1066.2,114.5" fill="#33a02f"/>
<polygon points="1100.5,127.5 1093,114.5 1107.9,114.5" fill="#33a02f"/>
<polygon points="1142.3,127.5 1134.8,114.5 1149.7,114.5" fill="#33a02f"/>
<polygon points="1184,128.5 1176.6,115.5 1191.5,115.5" fill="#33a02f"/>
<polygon points="1225.8,134.9 1218.4,121.9 1233.3,121.9" fill="#33a02f"/>
<polygon points="1267.6,152.9 1260.1,139.9 1275.1,139.9" fill="#33a02f"/>
<polygon points="1309.4,179.9 1301.9,166.9 1316.9,166.9" fill="#33a02f"/>
<polygon points="1351.2,236 1343.7,223 1358.7,223" fill="#33a02f"/>
<polygon points="1393,313.9 1385.5,300.9 1400.5,300.9" fill="#33a02f"/>
<path d="M1058.7,110.6L1100.5,111.3M1100.5,111.3L1142.3,112M1142.3,112L1184,114M1184,114L1225.8,120M1225.8,120L1267.6,129.3M1267.6,129.3L1309.4,140.5M1309.4,140.5L1351.2,159.3M1351.2,159.3L1393,190.3M1393,190.3L1434.8,241.6" fill="none" stroke="#f9c4b2" stroke-width="1.6" stroke-dasharray="10.5,9.3" stroke-dashoffset="11.5"/>
<line x1="1393" y1="186.3" x2="1393" y2="194.3" stroke="#f9c4b2" stroke-width="1.5" />
<line x1="1386.5" y1="186.3" x2="1399.5" y2="186.3" stroke="#f9c4b2" stroke-width="1.5" />
<line x1="1386.5" y1="194.3" x2="1399.5" y2="194.3" stroke="#f9c4b2" stroke-width="1.5" />
<line x1="1434.8" y1="236.6" x2="1434.8" y2="246.6" stroke="#f9c4b2" stroke-width="1.5" />
<line x1="1428.3" y1="236.6" x2="1441.3" y2="236.6" stroke="#f9c4b2" stroke-width="1.5" />
<line x1="1428.3" y1="246.6" x2="1441.3" y2="246.6" stroke="#f9c4b2" stroke-width="1.5" />
<polygon points="1058.7,102.8 1066.1,110.6 1058.7,118.4 1051.3,110.6" fill="#f9c4b2"/>
<polygon points="1100.5,103.5 1107.9,111.3 1100.5,119.1 1093.1,111.3" fill="#f9c4b2"/>
<polygon points="1142.3,104.2 1149.7,112 1142.3,119.8 1134.8,112" fill="#f9c4b2"/>
<polygon points="1184,106.2 1191.5,114 1184,121.8 1176.6,114" fill="#f9c4b2"/>
<polygon points="1225.8,112.2 1233.2,120 1225.8,127.8 1218.4,120" fill="#f9c4b2"/>
<polygon points="1267.6,121.5 1275,129.3 1267.6,137.1 1260.2,129.3" fill="#f9c4b2"/>
<polygon points="1309.4,132.7 1316.8,140.5 1309.4,148.3 1302,140.5" fill="#f9c4b2"/>
<polygon points="1351.2,151.5 1358.6,159.3 1351.2,167.1 1343.8,159.3" fill="#f9c4b2"/>
<polygon points="1393,182.5 1400.4,190.3 1393,198.1 1385.6,190.3" fill="#f9c4b2"/>
<polygon points="1434.8,233.8 1442.2,241.6 1434.8,249.4 1427.4,241.6" fill="#f9c4b2"/>
<path d="M1058.7,118L1100.5,119M1100.5,119L1142.3,121.8M1142.3,121.8L1184,123.5M1184,123.5L1225.8,126.7M1225.8,126.7L1267.6,131.2M1267.6,131.2L1309.4,136.8M1309.4,136.8L1351.2,142.4M1351.2,142.4L1393,156.6M1393,156.6L1434.8,186.6M1434.8,186.6L1476.6,245.4M1476.6,245.4L1518.3,356.9" fill="none" stroke="#e9473a" stroke-width="1.6" stroke-dasharray="10.5,9.3" stroke-dashoffset="11.5"/>
<line x1="1434.8" y1="181.6" x2="1434.8" y2="191.6" stroke="#e9473a" stroke-width="1.5" />
<line x1="1428.3" y1="181.6" x2="1441.3" y2="181.6" stroke="#e9473a" stroke-width="1.5" />
<line x1="1428.3" y1="191.6" x2="1441.3" y2="191.6" stroke="#e9473a" stroke-width="1.5" />
<line x1="1476.6" y1="239.4" x2="1476.6" y2="251.4" stroke="#e9473a" stroke-width="1.5" />
<line x1="1470.1" y1="239.4" x2="1483.1" y2="239.4" stroke="#e9473a" stroke-width="1.5" />
<line x1="1470.1" y1="251.4" x2="1483.1" y2="251.4" stroke="#e9473a" stroke-width="1.5" />
<line x1="1518.3" y1="350.9" x2="1518.3" y2="362.9" stroke="#e9473a" stroke-width="1.5" />
<line x1="1511.8" y1="350.9" x2="1524.8" y2="350.9" stroke="#e9473a" stroke-width="1.5" />
<line x1="1511.8" y1="362.9" x2="1524.8" y2="362.9" stroke="#e9473a" stroke-width="1.5" />
<polygon points="1051.1,118 1064.1,110.5 1064.1,125.5" fill="#e9473a"/>
<polygon points="1092.9,119 1105.9,111.5 1105.9,126.5" fill="#e9473a"/>
<polygon points="1134.7,121.8 1147.7,114.3 1147.7,129.3" fill="#e9473a"/>
<polygon points="1176.5,123.5 1189.5,116 1189.5,131" fill="#e9473a"/>
<polygon points="1218.3,126.7 1231.3,119.2 1231.3,134.2" fill="#e9473a"/>
<polygon points="1260.1,131.2 1273.1,123.7 1273.1,138.7" fill="#e9473a"/>
<polygon points="1301.9,136.8 1314.9,129.3 1314.9,144.3" fill="#e9473a"/>
<polygon points="1343.7,142.4 1356.7,134.9 1356.7,149.9" fill="#e9473a"/>
<polygon points="1385.4,156.6 1398.4,149.1 1398.4,164.1" fill="#e9473a"/>
<polygon points="1427.2,186.6 1440.2,179.1 1440.2,194.1" fill="#e9473a"/>
<polygon points="1469,245.4 1482,237.9 1482,252.9" fill="#e9473a"/>
<polygon points="1510.8,356.9 1523.8,349.4 1523.8,364.4" fill="#e9473a"/>
<path d="M1058.7,123L1100.5,123.7M1100.5,123.7L1142.3,124.4M1142.3,124.4L1184,125.6M1184,125.6L1225.8,130.4M1225.8,130.4L1267.6,134.2M1267.6,134.2L1309.4,139.8M1309.4,139.8L1351.2,149.9M1351.2,149.9L1393,166.7M1393,166.7L1434.8,191.8M1434.8,191.8L1476.6,256.6" fill="none" stroke="#b4171f" stroke-width="1.6" stroke-dasharray="10.5,9.3" stroke-dashoffset="11.5"/>
<line x1="1434.8" y1="185.8" x2="1434.8" y2="197.8" stroke="#b4171f" stroke-width="1.5" />
<line x1="1428.3" y1="185.8" x2="1441.3" y2="185.8" stroke="#b4171f" stroke-width="1.5" />
<line x1="1428.3" y1="197.8" x2="1441.3" y2="197.8" stroke="#b4171f" stroke-width="1.5" />
<line x1="1476.6" y1="248.6" x2="1476.6" y2="264.6" stroke="#b4171f" stroke-width="1.5" />
<line x1="1470.1" y1="248.6" x2="1483.1" y2="248.6" stroke="#b4171f" stroke-width="1.5" />
<line x1="1470.1" y1="264.6" x2="1483.1" y2="264.6" stroke="#b4171f" stroke-width="1.5" />
<polygon points="1066.2,123 1053.2,115.5 1053.2,130.5" fill="#b4171f"/>
<polygon points="1108,123.7 1095,116.2 1095,131.2" fill="#b4171f"/>
<polygon points="1149.8,124.4 1136.8,116.9 1136.8,131.9" fill="#b4171f"/>
<polygon points="1191.6,125.6 1178.6,118.1 1178.6,133.1" fill="#b4171f"/>
<polygon points="1233.4,130.4 1220.4,122.9 1220.4,137.9" fill="#b4171f"/>
<polygon points="1275.2,134.2 1262.2,126.7 1262.2,141.7" fill="#b4171f"/>
<polygon points="1316.9,139.8 1303.9,132.3 1303.9,147.3" fill="#b4171f"/>
<polygon points="1358.7,149.9 1345.7,142.4 1345.7,157.4" fill="#b4171f"/>
<polygon points="1400.5,166.7 1387.5,159.2 1387.5,174.2" fill="#b4171f"/>
<polygon points="1442.3,191.8 1429.3,184.3 1429.3,199.3" fill="#b4171f"/>
<polygon points="1484.1,256.6 1471.1,249.1 1471.1,264.1" fill="#b4171f"/>
<polyline points="1058.7,596 1100.5,592 1142.3,581.5 1184,570 1225.8,556 1267.6,541 1309.4,524.5 1351.2,499 1393,478 1434.8,450.4 1476.6,423 1518.3,391.2 1560.1,367.9 1601.9,351.3" fill="none" stroke="#a8da8c" stroke-width="1.6" stroke-linejoin="round"/>
<line x1="1560.1" y1="362.9" x2="1560.1" y2="372.9" stroke="#a8da8c" stroke-width="1.5" />
<line x1="1553.6" y1="362.9" x2="1566.6" y2="362.9" stroke="#a8da8c" stroke-width="1.5" />
<line x1="1553.6" y1="372.9" x2="1566.6" y2="372.9" stroke="#a8da8c" stroke-width="1.5" />
<line x1="1601.9" y1="342.3" x2="1601.9" y2="360.3" stroke="#a8da8c" stroke-width="1.5" />
<line x1="1595.4" y1="342.3" x2="1608.4" y2="342.3" stroke="#a8da8c" stroke-width="1.5" />
<line x1="1595.4" y1="360.3" x2="1608.4" y2="360.3" stroke="#a8da8c" stroke-width="1.5" />
<polygon points="1058.7,588.5 1051.2,601.5 1066.2,601.5" fill="#a8da8c"/>
<polygon points="1100.5,584.5 1093,597.5 1107.9,597.5" fill="#a8da8c"/>
<polygon points="1142.3,574 1134.8,587 1149.7,587" fill="#a8da8c"/>
<polygon points="1184,562.5 1176.6,575.5 1191.5,575.5" fill="#a8da8c"/>
<polygon points="1225.8,548.5 1218.4,561.5 1233.3,561.5" fill="#a8da8c"/>
<polygon points="1267.6,533.5 1260.1,546.5 1275.1,546.5" fill="#a8da8c"/>
<polygon points="1309.4,517 1301.9,530 1316.9,530" fill="#a8da8c"/>
<polygon points="1351.2,491.5 1343.7,504.5 1358.7,504.5" fill="#a8da8c"/>
<polygon points="1393,470.5 1385.5,483.5 1400.5,483.5" fill="#a8da8c"/>
<polygon points="1434.8,442.9 1427.3,455.9 1442.2,455.9" fill="#a8da8c"/>
<polygon points="1476.6,415.5 1469.1,428.5 1484,428.5" fill="#a8da8c"/>
<polygon points="1518.3,383.7 1510.9,396.7 1525.8,396.7" fill="#a8da8c"/>
<polygon points="1560.1,360.4 1552.7,373.4 1567.6,373.4" fill="#a8da8c"/>
<polygon points="1601.9,343.8 1594.4,356.8 1609.4,356.8" fill="#a8da8c"/>
<polyline points="1058.7,596 1100.5,592.5 1142.3,582 1184,571 1225.8,557 1267.6,544.7 1309.4,539.1 1351.2,537.2 1393,566.1" fill="none" stroke="#f9b96c" stroke-width="1.6" stroke-linejoin="round"/>
<rect x="1052.7" y="590" width="12" height="12" fill="#f9b96c"/>
<rect x="1094.5" y="586.5" width="12" height="12" fill="#f9b96c"/>
<rect x="1136.3" y="576" width="12" height="12" fill="#f9b96c"/>
<rect x="1178.1" y="565" width="12" height="12" fill="#f9b96c"/>
<rect x="1219.8" y="551" width="12" height="12" fill="#f9b96c"/>
<rect x="1261.6" y="538.7" width="12" height="12" fill="#f9b96c"/>
<rect x="1303.4" y="533.1" width="12" height="12" fill="#f9b96c"/>
<rect x="1345.2" y="531.2" width="12" height="12" fill="#f9b96c"/>
<rect x="1387" y="560.1" width="12" height="12" fill="#f9b96c"/>
<polyline points="1058.7,595.5 1100.5,591.5 1142.3,580.5 1184,568 1225.8,553 1267.6,535.5 1309.4,517 1351.2,496.8 1393,486.7" fill="none" stroke="#fb7f10" stroke-width="1.6" stroke-linejoin="round"/>
<circle cx="1058.7" cy="595.5" r="6.5" fill="#fb7f10"/>
<circle cx="1100.5" cy="591.5" r="6.5" fill="#fb7f10"/>
<circle cx="1142.3" cy="580.5" r="6.5" fill="#fb7f10"/>
<circle cx="1184" cy="568" r="6.5" fill="#fb7f10"/>
<circle cx="1225.8" cy="553" r="6.5" fill="#fb7f10"/>
<circle cx="1267.6" cy="535.5" r="6.5" fill="#fb7f10"/>
<circle cx="1309.4" cy="517" r="6.5" fill="#fb7f10"/>
<circle cx="1351.2" cy="496.8" r="6.5" fill="#fb7f10"/>
<circle cx="1393" cy="486.7" r="6.5" fill="#fb7f10"/>
<polyline points="1058.7,596 1100.5,592.5 1142.3,583 1184,573 1225.8,561 1267.6,549.2 1309.4,535.4 1351.2,522.3 1393,519.3" fill="none" stroke="#33a02f" stroke-width="1.6" stroke-linejoin="round"/>
<polygon points="1058.7,603.5 1051.2,590.5 1066.2,590.5" fill="#33a02f"/>
<polygon points="1100.5,600 1093,587 1107.9,587" fill="#33a02f"/>
<polygon points="1142.3,590.5 1134.8,577.5 1149.7,577.5" fill="#33a02f"/>
<polygon points="1184,580.5 1176.6,567.5 1191.5,567.5" fill="#33a02f"/>
<polygon points="1225.8,568.5 1218.4,555.5 1233.3,555.5" fill="#33a02f"/>
<polygon points="1267.6,556.7 1260.1,543.7 1275.1,543.7" fill="#33a02f"/>
<polygon points="1309.4,542.9 1301.9,529.9 1316.9,529.9" fill="#33a02f"/>
<polygon points="1351.2,529.8 1343.7,516.8 1358.7,516.8" fill="#33a02f"/>
<polygon points="1393,526.8 1385.5,513.8 1400.5,513.8" fill="#33a02f"/>
<polyline points="1058.7,596 1100.5,592.5 1142.3,583 1184,572 1225.8,560 1267.6,547.7 1309.4,531.6 1351.2,514 1393,497.9 1434.8,481.8" fill="none" stroke="#f9c4b2" stroke-width="1.6" stroke-linejoin="round"/>
<polygon points="1058.7,588.2 1066.1,596 1058.7,603.8 1051.3,596" fill="#f9c4b2"/>
<polygon points="1100.5,584.7 1107.9,592.5 1100.5,600.3 1093.1,592.5" fill="#f9c4b2"/>
<polygon points="1142.3,575.2 1149.7,583 1142.3,590.8 1134.8,583" fill="#f9c4b2"/>
<polygon points="1184,564.2 1191.5,572 1184,579.8 1176.6,572" fill="#f9c4b2"/>
<polygon points="1225.8,552.2 1233.2,560 1225.8,567.8 1218.4,560" fill="#f9c4b2"/>
<polygon points="1267.6,539.9 1275,547.7 1267.6,555.5 1260.2,547.7" fill="#f9c4b2"/>
<polygon points="1309.4,523.8 1316.8,531.6 1309.4,539.4 1302,531.6" fill="#f9c4b2"/>
<polygon points="1351.2,506.2 1358.6,514 1351.2,521.8 1343.8,514" fill="#f9c4b2"/>
<polygon points="1393,490.1 1400.4,497.9 1393,505.7 1385.6,497.9" fill="#f9c4b2"/>
<polygon points="1434.8,474 1442.2,481.8 1434.8,489.6 1427.4,481.8" fill="#f9c4b2"/>
<polyline points="1058.7,595.3 1100.5,591.5 1142.3,580.3 1184,569 1225.8,553 1267.6,535.4 1309.4,516.7 1351.2,494.2 1393,469.9 1434.8,445.5 1476.6,434.3 1518.3,477.3" fill="none" stroke="#e9473a" stroke-width="1.6" stroke-linejoin="round"/>
<line x1="1476.6" y1="430.3" x2="1476.6" y2="438.3" stroke="#e9473a" stroke-width="1.5" />
<line x1="1470.1" y1="430.3" x2="1483.1" y2="430.3" stroke="#e9473a" stroke-width="1.5" />
<line x1="1470.1" y1="438.3" x2="1483.1" y2="438.3" stroke="#e9473a" stroke-width="1.5" />
<line x1="1518.3" y1="469.3" x2="1518.3" y2="485.3" stroke="#e9473a" stroke-width="1.5" />
<line x1="1511.8" y1="469.3" x2="1524.8" y2="469.3" stroke="#e9473a" stroke-width="1.5" />
<line x1="1511.8" y1="485.3" x2="1524.8" y2="485.3" stroke="#e9473a" stroke-width="1.5" />
<polygon points="1051.1,595.3 1064.1,587.8 1064.1,602.8" fill="#e9473a"/>
<polygon points="1092.9,591.5 1105.9,584 1105.9,599" fill="#e9473a"/>
<polygon points="1134.7,580.3 1147.7,572.8 1147.7,587.8" fill="#e9473a"/>
<polygon points="1176.5,569 1189.5,561.5 1189.5,576.5" fill="#e9473a"/>
<polygon points="1218.3,553 1231.3,545.5 1231.3,560.5" fill="#e9473a"/>
<polygon points="1260.1,535.4 1273.1,527.9 1273.1,542.9" fill="#e9473a"/>
<polygon points="1301.9,516.7 1314.9,509.2 1314.9,524.2" fill="#e9473a"/>
<polygon points="1343.7,494.2 1356.7,486.7 1356.7,501.7" fill="#e9473a"/>
<polygon points="1385.4,469.9 1398.4,462.4 1398.4,477.4" fill="#e9473a"/>
<polygon points="1427.2,445.5 1440.2,438 1440.2,453" fill="#e9473a"/>
<polygon points="1469,434.3 1482,426.8 1482,441.8" fill="#e9473a"/>
<polygon points="1510.8,477.3 1523.8,469.8 1523.8,484.8" fill="#e9473a"/>
<polyline points="1058.7,596.4 1100.5,593.4 1142.3,587.8 1184,580.3 1225.8,570.2 1267.6,557.8 1309.4,542.9 1351.2,526.8 1393,510.3 1434.8,493.1 1476.6,478.1" fill="none" stroke="#b4171f" stroke-width="1.6" stroke-linejoin="round"/>
<line x1="1476.6" y1="474.1" x2="1476.6" y2="482.1" stroke="#b4171f" stroke-width="1.5" />
<line x1="1470.1" y1="474.1" x2="1483.1" y2="474.1" stroke="#b4171f" stroke-width="1.5" />
<line x1="1470.1" y1="482.1" x2="1483.1" y2="482.1" stroke="#b4171f" stroke-width="1.5" />
<polygon points="1066.2,596.4 1053.2,588.9 1053.2,603.9" fill="#b4171f"/>
<polygon points="1108,593.4 1095,585.9 1095,600.9" fill="#b4171f"/>
<polygon points="1149.8,587.8 1136.8,580.3 1136.8,595.3" fill="#b4171f"/>
<polygon points="1191.6,580.3 1178.6,572.8 1178.6,587.8" fill="#b4171f"/>
<polygon points="1233.4,570.2 1220.4,562.7 1220.4,577.7" fill="#b4171f"/>
<polygon points="1275.2,557.8 1262.2,550.3 1262.2,565.3" fill="#b4171f"/>
<polygon points="1316.9,542.9 1303.9,535.4 1303.9,550.4" fill="#b4171f"/>
<polygon points="1358.7,526.8 1345.7,519.3 1345.7,534.3" fill="#b4171f"/>
<polygon points="1400.5,510.3 1387.5,502.8 1387.5,517.8" fill="#b4171f"/>
<polygon points="1442.3,493.1 1429.3,485.6 1429.3,500.6" fill="#b4171f"/>
<polygon points="1484.1,478.1 1471.1,470.6 1471.1,485.6" fill="#b4171f"/>
<ellipse cx="1102.7" cy="136.8" rx="22.5" ry="40" fill="none" stroke="#000" stroke-width="1.9" stroke-dasharray="13,8.5"/>
<line x1="1115" y1="175.4" x2="1152.5" y2="175.4" stroke="#000" stroke-width="1.8" />
<polygon points="1167.5,175.4 1150.5,179.7 1150.5,171.1" fill="#000"/>
<ellipse cx="1185" cy="570.2" rx="22.5" ry="39.3" fill="none" stroke="#000" stroke-width="1.9" stroke-dasharray="13,8.5"/>
<line x1="1175" y1="531.6" x2="1140.2" y2="531.6" stroke="#000" stroke-width="1.8" />
<polygon points="1125.2,531.6 1142.2,527.3 1142.2,535.9" fill="#000"/>
<line x1="1004.8" y1="262" x2="1031.5" y2="262" stroke="#f9b96c" stroke-width="1.6" />
<rect x="1012" y="256" width="12" height="12" fill="#f9b96c"/>
<text transform="translate(1042.2,272) scale(1,1.06)" font-size="28.3" text-anchor="start" >PI-oxo, <tspan font-style="italic">E</tspan><tspan font-size="19.5" dy="7.4">g</tspan><tspan dy="-7.4"> = 3.30 eV</tspan></text>
<line x1="1004.8" y1="299.6" x2="1031.5" y2="299.6" stroke="#fb7f10" stroke-width="1.6" />
<circle cx="1018" cy="299.6" r="6.5" fill="#fb7f10"/>
<text transform="translate(1042.2,309.6) scale(1,1.06)" font-size="28.3" text-anchor="start" >PI-oxo-M, <tspan font-style="italic">E</tspan><tspan font-size="19.5" dy="7.4">g</tspan><tspan dy="-7.4"> = 3.31 eV</tspan></text>
<line x1="1004.8" y1="336.9" x2="1031.5" y2="336.9" stroke="#a8da8c" stroke-width="1.6" />
<polygon points="1018,329.4 1010.5,342.4 1025.5,342.4" fill="#a8da8c"/>
<text transform="translate(1042.2,346.9) scale(1,1.06)" font-size="28.3" text-anchor="start" >PI-oxo-iso, <tspan font-style="italic">E</tspan><tspan font-size="19.5" dy="7.4">g</tspan><tspan dy="-7.4"> = 3.50 eV</tspan></text>
<line x1="1004.8" y1="374" x2="1031.5" y2="374" stroke="#33a02f" stroke-width="1.6" />
<polygon points="1018,381.5 1010.5,368.5 1025.5,368.5" fill="#33a02f"/>
<text transform="translate(1042.2,384) scale(1,1.06)" font-size="28.3" text-anchor="start" >PEI, <tspan font-style="italic">E</tspan><tspan font-size="19.5" dy="7.4">g</tspan><tspan dy="-7.4"> = 3.29 eV</tspan></text>
<line x1="1004.8" y1="411.3" x2="1031.5" y2="411.3" stroke="#f9c4b2" stroke-width="1.6" />
<polygon points="1018,403.5 1025.4,411.3 1018,419.1 1010.6,411.3" fill="#f9c4b2"/>
<text transform="translate(1042.2,421.3) scale(1,1.06)" font-size="28.3" text-anchor="start" >PEI-<tspan font-style="italic">p</tspan>, <tspan font-style="italic">E</tspan><tspan font-size="19.5" dy="7.4">g</tspan><tspan dy="-7.4"> = 3.33 eV</tspan></text>
<line x1="1004.8" y1="448.9" x2="1031.5" y2="448.9" stroke="#e9473a" stroke-width="1.6" />
<polygon points="1010.5,448.9 1023.5,441.4 1023.5,456.4" fill="#e9473a"/>
<text transform="translate(1042.2,458.9) scale(1,1.06)" font-size="28.3" text-anchor="start" >PEI-<tspan font-style="italic">o</tspan>-M, <tspan font-style="italic">E</tspan><tspan font-size="19.5" dy="7.4">g</tspan><tspan dy="-7.4"> = 3.33 eV</tspan></text>
<line x1="1004.8" y1="485.9" x2="1031.5" y2="485.9" stroke="#b4171f" stroke-width="1.6" />
<polygon points="1025.5,485.9 1012.5,478.4 1012.5,493.4" fill="#b4171f"/>
<text transform="translate(1042.2,495.9) scale(1,1.06)" font-size="28.3" text-anchor="start" >PI-cyc-iso, <tspan font-style="italic">E</tspan><tspan font-size="19.5" dy="7.4">g</tspan><tspan dy="-7.4"> = 4.15 eV</tspan></text>
<text transform="translate(1641.8,597) scale(1,1.06)" font-size="29.7" text-anchor="end" >@ 200 °C, 100 Hz</text>
<text transform="translate(0,755) scale(1,1.04)" font-size="43.5" font-weight="bold">c</text>
<rect x="118.3" y="816" width="646.1" height="520" fill="none" stroke="#000" stroke-width="1.8"/>
<line x1="118.3" y1="1336" x2="118.3" y2="1341.5" stroke="#000" stroke-width="1.8" />
<line x1="161.4" y1="1336" x2="161.4" y2="1341.5" stroke="#000" stroke-width="1.8" />
<line x1="247.5" y1="1336" x2="247.5" y2="1341.5" stroke="#000" stroke-width="1.8" />
<line x1="333.7" y1="1336" x2="333.7" y2="1341.5" stroke="#000" stroke-width="1.8" />
<line x1="419.8" y1="1336" x2="419.8" y2="1341.5" stroke="#000" stroke-width="1.8" />
<line x1="506" y1="1336" x2="506" y2="1341.5" stroke="#000" stroke-width="1.8" />
<line x1="592.1" y1="1336" x2="592.1" y2="1341.5" stroke="#000" stroke-width="1.8" />
<line x1="678.3" y1="1336" x2="678.3" y2="1341.5" stroke="#000" stroke-width="1.8" />
<line x1="764.4" y1="1336" x2="764.4" y2="1341.5" stroke="#000" stroke-width="1.8" />
<line x1="204.4" y1="1336" x2="204.4" y2="1346" stroke="#000" stroke-width="1.8" />
<text transform="translate(204.4,1375) scale(1,1.06)" font-size="27.6" text-anchor="middle" >0</text>
<line x1="290.6" y1="1336" x2="290.6" y2="1346" stroke="#000" stroke-width="1.8" />
<text transform="translate(290.6,1375) scale(1,1.06)" font-size="27.6" text-anchor="middle" >100</text>
<line x1="376.7" y1="1336" x2="376.7" y2="1346" stroke="#000" stroke-width="1.8" />
<text transform="translate(376.7,1375) scale(1,1.06)" font-size="27.6" text-anchor="middle" >200</text>
<line x1="462.9" y1="1336" x2="462.9" y2="1346" stroke="#000" stroke-width="1.8" />
<text transform="translate(462.9,1375) scale(1,1.06)" font-size="27.6" text-anchor="middle" >300</text>
<line x1="549" y1="1336" x2="549" y2="1346" stroke="#000" stroke-width="1.8" />
<text transform="translate(549,1375) scale(1,1.06)" font-size="27.6" text-anchor="middle" >400</text>
<line x1="635.2" y1="1336" x2="635.2" y2="1346" stroke="#000" stroke-width="1.8" />
<text transform="translate(635.2,1375) scale(1,1.06)" font-size="27.6" text-anchor="middle" >500</text>
<line x1="721.3" y1="1336" x2="721.3" y2="1346" stroke="#000" stroke-width="1.8" />
<text transform="translate(721.3,1375) scale(1,1.06)" font-size="27.6" text-anchor="middle" >600</text>
<line x1="118.3" y1="1288.7" x2="112.8" y2="1288.7" stroke="#000" stroke-width="1.8" />
<line x1="118.3" y1="1194.2" x2="112.8" y2="1194.2" stroke="#000" stroke-width="1.8" />
<line x1="118.3" y1="1099.6" x2="112.8" y2="1099.6" stroke="#000" stroke-width="1.8" />
<line x1="118.3" y1="1005.1" x2="112.8" y2="1005.1" stroke="#000" stroke-width="1.8" />
<line x1="118.3" y1="910.5" x2="112.8" y2="910.5" stroke="#000" stroke-width="1.8" />
<line x1="118.3" y1="816" x2="112.8" y2="816" stroke="#000" stroke-width="1.8" />
<line x1="118.3" y1="1336" x2="108.3" y2="1336" stroke="#000" stroke-width="1.8" />
<text transform="translate(102.3,1345.7) scale(1,1.06)" font-size="27.6" text-anchor="end" >0</text>
<line x1="118.3" y1="1241.5" x2="108.3" y2="1241.5" stroke="#000" stroke-width="1.8" />
<text transform="translate(102.3,1251.2) scale(1,1.06)" font-size="27.6" text-anchor="end" >1</text>
<line x1="118.3" y1="1146.9" x2="108.3" y2="1146.9" stroke="#000" stroke-width="1.8" />
<text transform="translate(102.3,1156.6) scale(1,1.06)" font-size="27.6" text-anchor="end" >2</text>
<line x1="118.3" y1="1052.4" x2="108.3" y2="1052.4" stroke="#000" stroke-width="1.8" />
<text transform="translate(102.3,1062.1) scale(1,1.06)" font-size="27.6" text-anchor="end" >3</text>
<line x1="118.3" y1="957.8" x2="108.3" y2="957.8" stroke="#000" stroke-width="1.8" />
<text transform="translate(102.3,967.5) scale(1,1.06)" font-size="27.6" text-anchor="end" >4</text>
<line x1="118.3" y1="863.3" x2="108.3" y2="863.3" stroke="#000" stroke-width="1.8" />
<text transform="translate(102.3,873) scale(1,1.06)" font-size="27.6" text-anchor="end" >5</text>
<text transform="translate(442.8,1420) scale(1,1.06)" font-size="29.7" text-anchor="middle" >Electric field (MV/m)</text>
<text transform="translate(75.3,1076) rotate(-90) scale(1,1.06)" font-size="29.7" text-anchor="middle">Dischargeable energy density (J/cm<tspan font-size="19.5" dy="-12">3</tspan><tspan dy="12">)</tspan></text>
<polygon points="409.4,1291.6 427.4,1281.2 427.4,1301.9" fill="#0000ff"/>
<polygon points="333.7,1298.1 342.8,1304.7 339.3,1315.4 328,1315.4 324.6,1304.7" fill="#0000ff"/>
<rect x="567.5" y="1045" width="14.7" height="14.7" fill="#0000ff"/>
<polygon points="376.7,1271.7 366.4,1289.7 387.1,1289.7" fill="#0000ff"/>
<polygon points="462.9,1213.6 473.1,1224.4 462.9,1235.2 452.6,1224.4" fill="#0000ff"/>
<polygon points="566.3,1062.5 573.9,1066.9 573.9,1075.7 566.3,1080.1 558.6,1075.7 558.6,1066.9" fill="#0000ff"/>
<polygon points="592.1,1033 594.6,1039.5 601.5,1039.8 596.1,1044.2 597.9,1050.9 592.1,1047.1 586.3,1050.9 588.1,1044.2 582.7,1039.8 589.7,1039.5" fill="#0000ff"/>
<circle cx="462.9" cy="1188.5" r="8" fill="#ec4040"/>
<circle cx="462.9" cy="1165.8" r="8" fill="#ff0000"/>
<polygon points="430.3,1232 412.3,1221.7 412.3,1242.3" fill="#ff0000"/>
<polygon points="462.9,1137.3 472,1144 468.5,1154.7 457.3,1154.7 453.8,1144" fill="#ff0000"/>
<rect x="542.1" y="1130.6" width="13.8" height="13.8" fill="#ff0000"/>
<polygon points="693.7,920 711.7,909.6 711.7,930.4" fill="#ff0000"/>
<polygon points="721.3,822.2 723.8,828.7 730.8,829 725.3,833.4 727.2,840.1 721.3,836.2 715.5,840.1 717.4,833.4 711.9,829 718.9,828.7" fill="#ff0000"/>
<circle cx="462.9" cy="1165.8" r="8" fill="url(#gSph)"/>
<polygon points="131.4,832 149.4,821.6 149.4,842.4" fill="#0000ff"/>
<text transform="translate(172.5,841.3) scale(1,1.06)" font-size="28.7" text-anchor="start" >PEI, pure polymer</text>
<polygon points="141.8,853.8 150.9,860.4 147.4,871.1 136.2,871.1 132.7,860.4" fill="#0000ff"/>
<text transform="translate(172.5,872.7) scale(1,1.06)" font-size="28.7" text-anchor="start" >FPE, pure polymer</text>
<rect x="134.9" y="891.9" width="13.8" height="13.8" fill="#0000ff"/>
<text transform="translate(172.5,908.1) scale(1,1.06)" font-size="28.7" text-anchor="start" >PEI/PCBM<tspan font-size="18.5" dy="-10.5">[11]</tspan><tspan dy="10.5">​</tspan></text>
<polygon points="141.8,922 131.5,940 152.2,940" fill="#0000ff"/>
<text transform="translate(172.5,941.7) scale(1,1.06)" font-size="28.7" text-anchor="start" >c-BCB/BNNS<tspan font-size="18.5" dy="-10.5">[10]</tspan><tspan dy="10.5">​</tspan></text>
<polygon points="141.8,957.7 152.1,968.5 141.8,979.3 131.5,968.5" fill="#0000ff"/>
<text transform="translate(172.5,977.8) scale(1,1.06)" font-size="28.7" text-anchor="start" >PEI coated BN<tspan font-size="18.5" dy="-10.5">[34]</tspan><tspan dy="10.5">​</tspan></text>
<polygon points="141.8,994.7 149.4,999.1 149.4,1007.9 141.8,1012.3 134.2,1007.9 134.2,999.1" fill="#0000ff"/>
<text transform="translate(172.5,1012.8) scale(1,1.06)" font-size="28.7" text-anchor="start" >PEI coated Al<tspan font-size="18.5" dy="7.5">2</tspan><tspan dy="-7.5">​</tspan>O<tspan font-size="18.5" dy="7.5">3</tspan><tspan dy="-7.5">​</tspan><tspan font-size="18.5" dy="-10.5">[33]</tspan><tspan dy="10.5">​</tspan></text>
<polygon points="141.8,1030.7 144.2,1037.2 151.2,1037.5 145.8,1041.9 147.6,1048.6 141.8,1044.8 136,1048.6 137.8,1041.9 132.4,1037.5 139.4,1037.2" fill="#0000ff"/>
<text transform="translate(172.5,1049.9) scale(1,1.06)" font-size="28.7" text-anchor="start" >PI-oxo-iso</text>
<circle cx="141.8" cy="1076" r="8" fill="#ec4040"/>
<text transform="translate(172.5,1085.3) scale(1,1.06)" font-size="28.7" text-anchor="start" >Al<tspan font-size="18.5" dy="7.5">2</tspan><tspan dy="-7.5">​</tspan>O<tspan font-size="18.5" dy="7.5">3</tspan><tspan dy="-7.5">​</tspan>-PI-Al<tspan font-size="18.5" dy="7.5">2</tspan><tspan dy="-7.5">​</tspan>O<tspan font-size="18.5" dy="7.5">3</tspan><tspan dy="-7.5">​</tspan>-PI-Al<tspan font-size="18.5" dy="7.5">2</tspan><tspan dy="-7.5">​</tspan>O<tspan font-size="18.5" dy="7.5">3</tspan><tspan dy="-7.5">​</tspan><tspan font-size="18.5" dy="-10.5">[18]</tspan><tspan dy="10.5">​</tspan></text>
<circle cx="141.8" cy="1117.3" r="8" fill="#ff0000"/>
<text transform="translate(172.5,1126.6) scale(1,1.06)" font-size="28.7" text-anchor="start" >Al<tspan font-size="18.5" dy="7.5">2</tspan><tspan dy="-7.5">​</tspan>O<tspan font-size="18.5" dy="7.5">3</tspan><tspan dy="-7.5">​</tspan>-BT@SiO<tspan font-size="18.5" dy="7.5">2</tspan><tspan dy="-7.5">​</tspan>/PI-Al<tspan font-size="18.5" dy="7.5">2</tspan><tspan dy="-7.5">​</tspan>O<tspan font-size="18.5" dy="7.5">3</tspan><tspan dy="-7.5">​</tspan><tspan font-size="18.5" dy="-10.5">[35]</tspan><tspan dy="10.5">​</tspan></text>
<polygon points="152.2,1157.5 134.2,1147.2 134.2,1167.8" fill="#ff0000"/>
<text transform="translate(172.5,1166.8) scale(1,1.06)" font-size="28.7" text-anchor="start" >PI/BNNS<tspan font-size="18.5" dy="-10.5">[17]</tspan><tspan dy="10.5">​</tspan></text>
<polygon points="141.8,1182.1 150.9,1188.7 147.4,1199.4 136.2,1199.4 132.7,1188.7" fill="#ff0000"/>
<text transform="translate(172.5,1201) scale(1,1.06)" font-size="28.7" text-anchor="start" >PEIs-PI-PEIs<tspan font-size="18.5" dy="-10.5">[15]</tspan><tspan dy="10.5">​</tspan></text>
<rect x="134.9" y="1220.7" width="13.8" height="13.8" fill="#ff0000"/>
<text transform="translate(172.5,1236.9) scale(1,1.06)" font-size="28.7" text-anchor="start" ><tspan font-style="italic">o</tspan>-POFNB<tspan font-size="18.5" dy="-10.5">[23]</tspan><tspan dy="10.5">​</tspan></text>
<polygon points="131.4,1262.6 149.4,1252.2 149.4,1272.9" fill="#ff0000"/>
<text transform="translate(172.5,1271.9) scale(1,1.06)" font-size="28.7" text-anchor="start" >F-PI/PCBM<tspan font-size="18.5" dy="-10.5">[36]</tspan><tspan dy="10.5">​</tspan></text>
<polygon points="141.8,1284.5 144.2,1291 151.2,1291.3 145.8,1295.7 147.6,1302.4 141.8,1298.6 136,1302.4 137.8,1295.7 132.4,1291.3 139.4,1291" fill="#ff0000"/>
<text transform="translate(172.5,1303.7) scale(1,1.06)" font-size="28.7" text-anchor="start" >PI-oxo-iso</text>
<circle cx="141.8" cy="1117.3" r="8" fill="url(#gSph)"/>
<text transform="translate(549.1,948.8) scale(1,1.06)" font-size="25.5" text-anchor="middle" >This work</text>
<line x1="610.5" y1="927" x2="696.8" y2="849.3" stroke="#ff0000" stroke-width="2.2" />
<polygon points="707.9,839.3 698.9,854.8 691.6,846.6" fill="#ff0000"/>
<line x1="604.3" y1="957.5" x2="597.9" y2="1015.2" stroke="#ff0000" stroke-width="2.2" />
<polygon points="596.2,1030.1 592.6,1012.6 603.6,1013.8" fill="#ff0000"/>
<text transform="translate(744,1251) scale(1,1.06)" font-size="27.2" text-anchor="end" ><tspan font-style="italic">η</tspan> over 90% @ 200 °C</text>
<text transform="translate(612,1284.5) scale(1,1.06)" font-size="28" text-anchor="middle" >Blue: 10 Hz</text>
<text transform="translate(612,1319.5) scale(1,1.06)" font-size="28" text-anchor="middle" >Red: 100 Hz</text>
<text transform="translate(0,1467) scale(1,1.04)" font-size="43.5" font-weight="bold">e</text>
<rect x="116.8" y="1526.3" width="645.8" height="519.6" fill="none" stroke="#000" stroke-width="1.8"/>
<line x1="159.9" y1="2045.9" x2="159.9" y2="2051.4" stroke="#000" stroke-width="1.8" />
<line x1="246" y1="2045.9" x2="246" y2="2051.4" stroke="#000" stroke-width="1.8" />
<line x1="332.1" y1="2045.9" x2="332.1" y2="2051.4" stroke="#000" stroke-width="1.8" />
<line x1="418.2" y1="2045.9" x2="418.2" y2="2051.4" stroke="#000" stroke-width="1.8" />
<line x1="504.3" y1="2045.9" x2="504.3" y2="2051.4" stroke="#000" stroke-width="1.8" />
<line x1="590.4" y1="2045.9" x2="590.4" y2="2051.4" stroke="#000" stroke-width="1.8" />
<line x1="676.5" y1="2045.9" x2="676.5" y2="2051.4" stroke="#000" stroke-width="1.8" />
<line x1="762.6" y1="2045.9" x2="762.6" y2="2051.4" stroke="#000" stroke-width="1.8" />
<line x1="116.8" y1="2045.9" x2="116.8" y2="2055.9" stroke="#000" stroke-width="1.8" />
<text transform="translate(116.8,2084.9) scale(1,1.06)" font-size="27.6" text-anchor="middle" >0</text>
<line x1="202.9" y1="2045.9" x2="202.9" y2="2055.9" stroke="#000" stroke-width="1.8" />
<text transform="translate(202.9,2084.9) scale(1,1.06)" font-size="27.6" text-anchor="middle" >100</text>
<line x1="289" y1="2045.9" x2="289" y2="2055.9" stroke="#000" stroke-width="1.8" />
<text transform="translate(289,2084.9) scale(1,1.06)" font-size="27.6" text-anchor="middle" >200</text>
<line x1="375.1" y1="2045.9" x2="375.1" y2="2055.9" stroke="#000" stroke-width="1.8" />
<text transform="translate(375.1,2084.9) scale(1,1.06)" font-size="27.6" text-anchor="middle" >300</text>
<line x1="461.2" y1="2045.9" x2="461.2" y2="2055.9" stroke="#000" stroke-width="1.8" />
<text transform="translate(461.2,2084.9) scale(1,1.06)" font-size="27.6" text-anchor="middle" >400</text>
<line x1="547.3" y1="2045.9" x2="547.3" y2="2055.9" stroke="#000" stroke-width="1.8" />
<text transform="translate(547.3,2084.9) scale(1,1.06)" font-size="27.6" text-anchor="middle" >500</text>
<line x1="633.4" y1="2045.9" x2="633.4" y2="2055.9" stroke="#000" stroke-width="1.8" />
<text transform="translate(633.4,2084.9) scale(1,1.06)" font-size="27.6" text-anchor="middle" >600</text>
<line x1="719.5" y1="2045.9" x2="719.5" y2="2055.9" stroke="#000" stroke-width="1.8" />
<text transform="translate(719.5,2084.9) scale(1,1.06)" font-size="27.6" text-anchor="middle" >700</text>
<line x1="116.8" y1="1988.2" x2="111.3" y2="1988.2" stroke="#000" stroke-width="1.8" />
<line x1="116.8" y1="1911.2" x2="111.3" y2="1911.2" stroke="#000" stroke-width="1.8" />
<line x1="116.8" y1="1834.2" x2="111.3" y2="1834.2" stroke="#000" stroke-width="1.8" />
<line x1="116.8" y1="1757.2" x2="111.3" y2="1757.2" stroke="#000" stroke-width="1.8" />
<line x1="116.8" y1="1680.3" x2="111.3" y2="1680.3" stroke="#000" stroke-width="1.8" />
<line x1="116.8" y1="1603.3" x2="111.3" y2="1603.3" stroke="#000" stroke-width="1.8" />
<line x1="116.8" y1="1526.3" x2="111.3" y2="1526.3" stroke="#000" stroke-width="1.8" />
<line x1="116.8" y1="2026.7" x2="106.8" y2="2026.7" stroke="#000" stroke-width="1.8" />
<text transform="translate(100.8,2036.4) scale(1,1.06)" font-size="27.6" text-anchor="end" >0</text>
<line x1="116.8" y1="1949.7" x2="106.8" y2="1949.7" stroke="#000" stroke-width="1.8" />
<text transform="translate(100.8,1959.4) scale(1,1.06)" font-size="27.6" text-anchor="end" >2</text>
<line x1="116.8" y1="1872.7" x2="106.8" y2="1872.7" stroke="#000" stroke-width="1.8" />
<text transform="translate(100.8,1882.4) scale(1,1.06)" font-size="27.6" text-anchor="end" >4</text>
<line x1="116.8" y1="1795.7" x2="106.8" y2="1795.7" stroke="#000" stroke-width="1.8" />
<text transform="translate(100.8,1805.4) scale(1,1.06)" font-size="27.6" text-anchor="end" >6</text>
<line x1="116.8" y1="1718.7" x2="106.8" y2="1718.7" stroke="#000" stroke-width="1.8" />
<text transform="translate(100.8,1728.4) scale(1,1.06)" font-size="27.6" text-anchor="end" >8</text>
<line x1="116.8" y1="1641.8" x2="106.8" y2="1641.8" stroke="#000" stroke-width="1.8" />
<text transform="translate(100.8,1651.5) scale(1,1.06)" font-size="27.6" text-anchor="end" >10</text>
<line x1="116.8" y1="1564.8" x2="106.8" y2="1564.8" stroke="#000" stroke-width="1.8" />
<text transform="translate(100.8,1574.5) scale(1,1.06)" font-size="27.6" text-anchor="end" >12</text>
<line x1="762.6" y1="1998.7" x2="768.1" y2="1998.7" stroke="#000" stroke-width="1.8" />
<line x1="762.6" y1="1904.2" x2="768.1" y2="1904.2" stroke="#000" stroke-width="1.8" />
<line x1="762.6" y1="1809.7" x2="768.1" y2="1809.7" stroke="#000" stroke-width="1.8" />
<line x1="762.6" y1="1715.2" x2="768.1" y2="1715.2" stroke="#000" stroke-width="1.8" />
<line x1="762.6" y1="1620.8" x2="768.1" y2="1620.8" stroke="#000" stroke-width="1.8" />
<line x1="762.6" y1="1526.3" x2="768.1" y2="1526.3" stroke="#000" stroke-width="1.8" />
<line x1="762.6" y1="2045.9" x2="772.6" y2="2045.9" stroke="#000" stroke-width="1.8" />
<text transform="translate(778.6,2055.6) scale(1,1.06)" font-size="27.6" text-anchor="start" >0</text>
<line x1="762.6" y1="1951.4" x2="772.6" y2="1951.4" stroke="#000" stroke-width="1.8" />
<text transform="translate(778.6,1961.1) scale(1,1.06)" font-size="27.6" text-anchor="start" >20</text>
<line x1="762.6" y1="1857" x2="772.6" y2="1857" stroke="#000" stroke-width="1.8" />
<text transform="translate(778.6,1866.7) scale(1,1.06)" font-size="27.6" text-anchor="start" >40</text>
<line x1="762.6" y1="1762.5" x2="772.6" y2="1762.5" stroke="#000" stroke-width="1.8" />
<text transform="translate(778.6,1772.2) scale(1,1.06)" font-size="27.6" text-anchor="start" >60</text>
<line x1="762.6" y1="1668" x2="772.6" y2="1668" stroke="#000" stroke-width="1.8" />
<text transform="translate(778.6,1677.7) scale(1,1.06)" font-size="27.6" text-anchor="start" >80</text>
<line x1="762.6" y1="1573.5" x2="772.6" y2="1573.5" stroke="#000" stroke-width="1.8" />
<text transform="translate(778.6,1583.2) scale(1,1.06)" font-size="27.6" text-anchor="start" >100</text>
<text transform="translate(441.6,2130) scale(1,1.06)" font-size="29.7" text-anchor="middle" >Electric field (MV/m)</text>
<text transform="translate(58.1,1785) rotate(-90) scale(1,1.06)" font-size="29.7" text-anchor="middle">Discharged energy density (J/cm<tspan font-size="19.5" dy="-12">3</tspan><tspan dy="12">)</tspan></text>
<text transform="translate(858.5,1785) rotate(-90) scale(1,1.06)" font-size="29.7" text-anchor="middle">Charge-discharge efficiency (%)</text>
<path d="M159.9,1555.6L202.9,1552.6M202.9,1552.6L246,1551.1M246,1551.1L289,1550M289,1550L332.1,1550M332.1,1550L375.1,1551.1M375.1,1551.1L418.2,1556.3M418.2,1556.3L461.2,1559.3M461.2,1559.3L504.3,1565.7M504.3,1565.7L547.3,1572.4M547.3,1572.4L590.4,1581.8M590.4,1581.8L633.4,1593.8M633.4,1593.8L676.5,1608M676.5,1608L719.5,1619.2" fill="none" stroke="#fbbd9b" stroke-width="1.6" stroke-dasharray="10.5,9.3" stroke-dashoffset="11.5"/>
<line x1="633.4" y1="1590.8" x2="633.4" y2="1596.8" stroke="#fbbd9b" stroke-width="1.5" />
<line x1="626.9" y1="1590.8" x2="639.9" y2="1590.8" stroke="#fbbd9b" stroke-width="1.5" />
<line x1="626.9" y1="1596.8" x2="639.9" y2="1596.8" stroke="#fbbd9b" stroke-width="1.5" />
<line x1="676.5" y1="1605" x2="676.5" y2="1611" stroke="#fbbd9b" stroke-width="1.5" />
<line x1="670" y1="1605" x2="683" y2="1605" stroke="#fbbd9b" stroke-width="1.5" />
<line x1="670" y1="1611" x2="683" y2="1611" stroke="#fbbd9b" stroke-width="1.5" />
<line x1="719.5" y1="1615.2" x2="719.5" y2="1623.2" stroke="#fbbd9b" stroke-width="1.5" />
<line x1="713" y1="1615.2" x2="726" y2="1615.2" stroke="#fbbd9b" stroke-width="1.5" />
<line x1="713" y1="1623.2" x2="726" y2="1623.2" stroke="#fbbd9b" stroke-width="1.5" />
<rect x="153.9" y="1549.6" width="12" height="12" fill="#fbbd9b"/>
<rect x="196.9" y="1546.6" width="12" height="12" fill="#fbbd9b"/>
<rect x="240" y="1545.1" width="12" height="12" fill="#fbbd9b"/>
<rect x="283" y="1544" width="12" height="12" fill="#fbbd9b"/>
<rect x="326.1" y="1544" width="12" height="12" fill="#fbbd9b"/>
<rect x="369.1" y="1545.1" width="12" height="12" fill="#fbbd9b"/>
<rect x="412.2" y="1550.3" width="12" height="12" fill="#fbbd9b"/>
<rect x="455.2" y="1553.3" width="12" height="12" fill="#fbbd9b"/>
<rect x="498.3" y="1559.7" width="12" height="12" fill="#fbbd9b"/>
<rect x="541.4" y="1566.4" width="12" height="12" fill="#fbbd9b"/>
<rect x="584.4" y="1575.8" width="12" height="12" fill="#fbbd9b"/>
<rect x="627.5" y="1587.8" width="12" height="12" fill="#fbbd9b"/>
<rect x="670.5" y="1602" width="12" height="12" fill="#fbbd9b"/>
<rect x="713.6" y="1613.2" width="12" height="12" fill="#fbbd9b"/>
<path d="M159.9,1559.3L202.9,1562.3M202.9,1562.3L246,1563.8M246,1563.8L289,1564.2M289,1564.2L332.1,1564.2M332.1,1564.2L375.1,1564.2M375.1,1564.2L418.2,1564.9M418.2,1564.9L461.2,1566.8M461.2,1566.8L504.3,1571.3M504.3,1571.3L547.3,1579.2M547.3,1579.2L590.4,1590M590.4,1590L633.4,1605.4M633.4,1605.4L676.5,1621.1M676.5,1621.1L719.5,1662.3" fill="none" stroke="#05c09c" stroke-width="1.6" stroke-dasharray="10.5,9.3" stroke-dashoffset="11.5"/>
<line x1="590.4" y1="1587" x2="590.4" y2="1593" stroke="#05c09c" stroke-width="1.5" />
<line x1="583.9" y1="1587" x2="596.9" y2="1587" stroke="#05c09c" stroke-width="1.5" />
<line x1="583.9" y1="1593" x2="596.9" y2="1593" stroke="#05c09c" stroke-width="1.5" />
<line x1="633.4" y1="1601.4" x2="633.4" y2="1609.4" stroke="#05c09c" stroke-width="1.5" />
<line x1="626.9" y1="1601.4" x2="639.9" y2="1601.4" stroke="#05c09c" stroke-width="1.5" />
<line x1="626.9" y1="1609.4" x2="639.9" y2="1609.4" stroke="#05c09c" stroke-width="1.5" />
<line x1="676.5" y1="1617.1" x2="676.5" y2="1625.1" stroke="#05c09c" stroke-width="1.5" />
<line x1="670" y1="1617.1" x2="683" y2="1617.1" stroke="#05c09c" stroke-width="1.5" />
<line x1="670" y1="1625.1" x2="683" y2="1625.1" stroke="#05c09c" stroke-width="1.5" />
<line x1="719.5" y1="1654.3" x2="719.5" y2="1670.3" stroke="#05c09c" stroke-width="1.5" />
<line x1="713" y1="1654.3" x2="726" y2="1654.3" stroke="#05c09c" stroke-width="1.5" />
<line x1="713" y1="1670.3" x2="726" y2="1670.3" stroke="#05c09c" stroke-width="1.5" />
<circle cx="159.9" cy="1559.3" r="6.5" fill="#05c09c"/>
<circle cx="202.9" cy="1562.3" r="6.5" fill="#05c09c"/>
<circle cx="246" cy="1563.8" r="6.5" fill="#05c09c"/>
<circle cx="289" cy="1564.2" r="6.5" fill="#05c09c"/>
<circle cx="332.1" cy="1564.2" r="6.5" fill="#05c09c"/>
<circle cx="375.1" cy="1564.2" r="6.5" fill="#05c09c"/>
<circle cx="418.2" cy="1564.9" r="6.5" fill="#05c09c"/>
<circle cx="461.2" cy="1566.8" r="6.5" fill="#05c09c"/>
<circle cx="504.3" cy="1571.3" r="6.5" fill="#05c09c"/>
<circle cx="547.3" cy="1579.2" r="6.5" fill="#05c09c"/>
<circle cx="590.4" cy="1590" r="6.5" fill="#05c09c"/>
<circle cx="633.4" cy="1605.4" r="6.5" fill="#05c09c"/>
<circle cx="676.5" cy="1621.1" r="6.5" fill="#05c09c"/>
<circle cx="719.5" cy="1662.3" r="6.5" fill="#05c09c"/>
<path d="M159.9,1557.4L202.9,1555.6M202.9,1555.6L246,1556.3M246,1556.3L289,1557.4M289,1557.4L332.1,1558.6M332.1,1558.6L375.1,1563M375.1,1563L418.2,1565.7M418.2,1565.7L461.2,1571.7M461.2,1571.7L504.3,1581.8M504.3,1581.8L547.3,1598.6M547.3,1598.6L590.4,1623M590.4,1623L633.4,1664.1" fill="none" stroke="#4e85c1" stroke-width="1.6" stroke-dasharray="10.5,9.3" stroke-dashoffset="11.5"/>
<line x1="590.4" y1="1619" x2="590.4" y2="1627" stroke="#4e85c1" stroke-width="1.5" />
<line x1="583.9" y1="1619" x2="596.9" y2="1619" stroke="#4e85c1" stroke-width="1.5" />
<line x1="583.9" y1="1627" x2="596.9" y2="1627" stroke="#4e85c1" stroke-width="1.5" />
<line x1="633.4" y1="1656.1" x2="633.4" y2="1672.1" stroke="#4e85c1" stroke-width="1.5" />
<line x1="626.9" y1="1656.1" x2="639.9" y2="1656.1" stroke="#4e85c1" stroke-width="1.5" />
<line x1="626.9" y1="1672.1" x2="639.9" y2="1672.1" stroke="#4e85c1" stroke-width="1.5" />
<polygon points="159.9,1549.9 152.4,1562.9 167.3,1562.9" fill="#4e85c1"/>
<polygon points="202.9,1548.1 195.4,1561.1 210.4,1561.1" fill="#4e85c1"/>
<polygon points="246,1548.8 238.5,1561.8 253.4,1561.8" fill="#4e85c1"/>
<polygon points="289,1549.9 281.5,1562.9 296.5,1562.9" fill="#4e85c1"/>
<polygon points="332.1,1551.1 324.6,1564.1 339.5,1564.1" fill="#4e85c1"/>
<polygon points="375.1,1555.5 367.6,1568.5 382.6,1568.5" fill="#4e85c1"/>
<polygon points="418.2,1558.2 410.7,1571.2 425.6,1571.2" fill="#4e85c1"/>
<polygon points="461.2,1564.2 453.8,1577.2 468.7,1577.2" fill="#4e85c1"/>
<polygon points="504.3,1574.3 496.8,1587.3 511.8,1587.3" fill="#4e85c1"/>
<polygon points="547.3,1591.1 539.9,1604.1 554.8,1604.1" fill="#4e85c1"/>
<polygon points="590.4,1615.5 582.9,1628.5 597.9,1628.5" fill="#4e85c1"/>
<polygon points="633.4,1656.6 626,1669.6 640.9,1669.6" fill="#4e85c1"/>
<polyline points="159.9,2025.5 202.9,2020.5 246,2012.4 289,2002 332.1,1987.4 375.1,1970.5 418.2,1949.7 461.2,1926.6 504.3,1902.7 547.3,1877.3 590.4,1849.6 633.4,1820.7 676.5,1786.1 719.5,1739.9" fill="none" stroke="#fbbd9b" stroke-width="1.6" stroke-linejoin="round"/>
<rect x="153.9" y="2019.5" width="12" height="12" fill="#fbbd9b"/>
<rect x="196.9" y="2014.5" width="12" height="12" fill="#fbbd9b"/>
<rect x="240" y="2006.4" width="12" height="12" fill="#fbbd9b"/>
<rect x="283" y="1996" width="12" height="12" fill="#fbbd9b"/>
<rect x="326.1" y="1981.4" width="12" height="12" fill="#fbbd9b"/>
<rect x="369.1" y="1964.5" width="12" height="12" fill="#fbbd9b"/>
<rect x="412.2" y="1943.7" width="12" height="12" fill="#fbbd9b"/>
<rect x="455.2" y="1920.6" width="12" height="12" fill="#fbbd9b"/>
<rect x="498.3" y="1896.7" width="12" height="12" fill="#fbbd9b"/>
<rect x="541.4" y="1871.3" width="12" height="12" fill="#fbbd9b"/>
<rect x="584.4" y="1843.6" width="12" height="12" fill="#fbbd9b"/>
<rect x="627.5" y="1814.8" width="12" height="12" fill="#fbbd9b"/>
<rect x="670.5" y="1780.1" width="12" height="12" fill="#fbbd9b"/>
<rect x="713.6" y="1733.9" width="12" height="12" fill="#fbbd9b"/>
<polyline points="159.9,2025.5 202.9,2020.9 246,2013.6 289,2003.2 332.1,1988.9 375.1,1972 418.2,1950.4 461.2,1929.7 504.3,1905.8 547.3,1875.8 590.4,1845.8 633.4,1815 676.5,1782.3 719.5,1755.3" fill="none" stroke="#05c09c" stroke-width="1.6" stroke-linejoin="round"/>
<circle cx="159.9" cy="2025.5" r="6.5" fill="#05c09c"/>
<circle cx="202.9" cy="2020.9" r="6.5" fill="#05c09c"/>
<circle cx="246" cy="2013.6" r="6.5" fill="#05c09c"/>
<circle cx="289" cy="2003.2" r="6.5" fill="#05c09c"/>
<circle cx="332.1" cy="1988.9" r="6.5" fill="#05c09c"/>
<circle cx="375.1" cy="1972" r="6.5" fill="#05c09c"/>
<circle cx="418.2" cy="1950.4" r="6.5" fill="#05c09c"/>
<circle cx="461.2" cy="1929.7" r="6.5" fill="#05c09c"/>
<circle cx="504.3" cy="1905.8" r="6.5" fill="#05c09c"/>
<circle cx="547.3" cy="1875.8" r="6.5" fill="#05c09c"/>
<circle cx="590.4" cy="1845.8" r="6.5" fill="#05c09c"/>
<circle cx="633.4" cy="1815" r="6.5" fill="#05c09c"/>
<circle cx="676.5" cy="1782.3" r="6.5" fill="#05c09c"/>
<circle cx="719.5" cy="1755.3" r="6.5" fill="#05c09c"/>
<polyline points="159.9,2025.5 202.9,2020.5 246,2013.2 289,2002.8 332.1,1988.9 375.1,1972.8 418.2,1952.4 461.2,1931.6 504.3,1908.1 547.3,1880.4 590.4,1853.5 633.4,1828.4" fill="none" stroke="#4e85c1" stroke-width="1.6" stroke-linejoin="round"/>
<line x1="159.9" y1="2019.5" x2="159.9" y2="2031.5" stroke="#4e85c1" stroke-width="1.5" />
<line x1="153.4" y1="2019.5" x2="166.4" y2="2019.5" stroke="#4e85c1" stroke-width="1.5" />
<line x1="153.4" y1="2031.5" x2="166.4" y2="2031.5" stroke="#4e85c1" stroke-width="1.5" />
<line x1="202.9" y1="2016.5" x2="202.9" y2="2024.5" stroke="#4e85c1" stroke-width="1.5" />
<line x1="196.4" y1="2016.5" x2="209.4" y2="2016.5" stroke="#4e85c1" stroke-width="1.5" />
<line x1="196.4" y1="2024.5" x2="209.4" y2="2024.5" stroke="#4e85c1" stroke-width="1.5" />
<line x1="246" y1="2010.2" x2="246" y2="2016.2" stroke="#4e85c1" stroke-width="1.5" />
<line x1="239.5" y1="2010.2" x2="252.5" y2="2010.2" stroke="#4e85c1" stroke-width="1.5" />
<line x1="239.5" y1="2016.2" x2="252.5" y2="2016.2" stroke="#4e85c1" stroke-width="1.5" />
<line x1="289" y1="1999.8" x2="289" y2="2005.8" stroke="#4e85c1" stroke-width="1.5" />
<line x1="282.5" y1="1999.8" x2="295.5" y2="1999.8" stroke="#4e85c1" stroke-width="1.5" />
<line x1="282.5" y1="2005.8" x2="295.5" y2="2005.8" stroke="#4e85c1" stroke-width="1.5" />
<line x1="332.1" y1="1985.9" x2="332.1" y2="1991.9" stroke="#4e85c1" stroke-width="1.5" />
<line x1="325.6" y1="1985.9" x2="338.6" y2="1985.9" stroke="#4e85c1" stroke-width="1.5" />
<line x1="325.6" y1="1991.9" x2="338.6" y2="1991.9" stroke="#4e85c1" stroke-width="1.5" />
<line x1="375.1" y1="1969.8" x2="375.1" y2="1975.8" stroke="#4e85c1" stroke-width="1.5" />
<line x1="368.6" y1="1969.8" x2="381.6" y2="1969.8" stroke="#4e85c1" stroke-width="1.5" />
<line x1="368.6" y1="1975.8" x2="381.6" y2="1975.8" stroke="#4e85c1" stroke-width="1.5" />
<line x1="418.2" y1="1949.4" x2="418.2" y2="1955.4" stroke="#4e85c1" stroke-width="1.5" />
<line x1="411.7" y1="1949.4" x2="424.7" y2="1949.4" stroke="#4e85c1" stroke-width="1.5" />
<line x1="411.7" y1="1955.4" x2="424.7" y2="1955.4" stroke="#4e85c1" stroke-width="1.5" />
<line x1="461.2" y1="1928.6" x2="461.2" y2="1934.6" stroke="#4e85c1" stroke-width="1.5" />
<line x1="454.7" y1="1928.6" x2="467.7" y2="1928.6" stroke="#4e85c1" stroke-width="1.5" />
<line x1="454.7" y1="1934.6" x2="467.7" y2="1934.6" stroke="#4e85c1" stroke-width="1.5" />
<line x1="504.3" y1="1905.1" x2="504.3" y2="1911.1" stroke="#4e85c1" stroke-width="1.5" />
<line x1="497.8" y1="1905.1" x2="510.8" y2="1905.1" stroke="#4e85c1" stroke-width="1.5" />
<line x1="497.8" y1="1911.1" x2="510.8" y2="1911.1" stroke="#4e85c1" stroke-width="1.5" />
<line x1="547.3" y1="1877.4" x2="547.3" y2="1883.4" stroke="#4e85c1" stroke-width="1.5" />
<line x1="540.8" y1="1877.4" x2="553.8" y2="1877.4" stroke="#4e85c1" stroke-width="1.5" />
<line x1="540.8" y1="1883.4" x2="553.8" y2="1883.4" stroke="#4e85c1" stroke-width="1.5" />
<line x1="590.4" y1="1850.5" x2="590.4" y2="1856.5" stroke="#4e85c1" stroke-width="1.5" />
<line x1="583.9" y1="1850.5" x2="596.9" y2="1850.5" stroke="#4e85c1" stroke-width="1.5" />
<line x1="583.9" y1="1856.5" x2="596.9" y2="1856.5" stroke="#4e85c1" stroke-width="1.5" />
<line x1="633.4" y1="1825.4" x2="633.4" y2="1831.4" stroke="#4e85c1" stroke-width="1.5" />
<line x1="626.9" y1="1825.4" x2="639.9" y2="1825.4" stroke="#4e85c1" stroke-width="1.5" />
<line x1="626.9" y1="1831.4" x2="639.9" y2="1831.4" stroke="#4e85c1" stroke-width="1.5" />
<polygon points="159.9,2018 152.4,2031 167.3,2031" fill="#4e85c1"/>
<polygon points="202.9,2013 195.4,2026 210.4,2026" fill="#4e85c1"/>
<polygon points="246,2005.6 238.5,2018.6 253.4,2018.6" fill="#4e85c1"/>
<polygon points="289,1995.3 281.5,2008.3 296.5,2008.3" fill="#4e85c1"/>
<polygon points="332.1,1981.4 324.6,1994.4 339.5,1994.4" fill="#4e85c1"/>
<polygon points="375.1,1965.2 367.6,1978.2 382.6,1978.2" fill="#4e85c1"/>
<polygon points="418.2,1944.8 410.7,1957.8 425.6,1957.8" fill="#4e85c1"/>
<polygon points="461.2,1924 453.8,1937 468.7,1937" fill="#4e85c1"/>
<polygon points="504.3,1900.6 496.8,1913.6 511.8,1913.6" fill="#4e85c1"/>
<polygon points="547.3,1872.9 539.9,1885.9 554.8,1885.9" fill="#4e85c1"/>
<polygon points="590.4,1845.9 582.9,1858.9 597.9,1858.9" fill="#4e85c1"/>
<polygon points="633.4,1820.9 626,1833.9 640.9,1833.9" fill="#4e85c1"/>
<ellipse cx="246.9" cy="1575.4" rx="23.2" ry="39.3" fill="none" stroke="#000" stroke-width="1.9" stroke-dasharray="13,8.5"/>
<line x1="261.1" y1="1611.7" x2="293.7" y2="1611.7" stroke="#000" stroke-width="1.8" />
<polygon points="308.7,1611.7 291.7,1616 291.7,1607.4" fill="#000"/>
<ellipse cx="337.1" cy="1984" rx="23.2" ry="38.2" fill="none" stroke="#000" stroke-width="1.9" stroke-dasharray="13,8.5"/>
<line x1="333.4" y1="1944.7" x2="303.5" y2="1944.7" stroke="#000" stroke-width="1.8" />
<polygon points="288.5,1944.7 305.5,1940.4 305.5,1949" fill="#000"/>
<line x1="169.4" y1="1717.3" x2="229.3" y2="1717.3" stroke="#fbbd9b" stroke-width="1.6" />
<rect x="193.4" y="1711.3" width="12" height="12" fill="#fbbd9b"/>
<text transform="translate(235.6,1726.9) scale(1,1.06)" font-size="27.9" text-anchor="start" >PEI-iso</text>
<line x1="169.4" y1="1751" x2="229.3" y2="1751" stroke="#05c09c" stroke-width="1.6" />
<circle cx="199.4" cy="1751" r="6.5" fill="#05c09c"/>
<text transform="translate(235.6,1760.6) scale(1,1.06)" font-size="27.9" text-anchor="start" >PI-oxo-iso</text>
<line x1="169.4" y1="1783.9" x2="229.3" y2="1783.9" stroke="#4e85c1" stroke-width="1.6" />
<polygon points="199.4,1776.4 191.9,1789.4 206.9,1789.4" fill="#4e85c1"/>
<text transform="translate(235.6,1793.5) scale(1,1.06)" font-size="27.9" text-anchor="start" >PI-CF<tspan font-size="18.5" dy="7.5">3</tspan><tspan dy="-7.5">​</tspan>-iso</text>
<text transform="translate(722,1997.9) scale(1,1.06)" font-size="27.5" text-anchor="end" >@ 150°C, 100 Hz</text>
<text transform="translate(885,1466.5) scale(1,1.04)" font-size="43.5" font-weight="bold">f</text>
<rect x="998.5" y="1523.3" width="646.7" height="519.2" fill="none" stroke="#000" stroke-width="1.8"/>
<line x1="1057.3" y1="2042.5" x2="1057.3" y2="2048" stroke="#000" stroke-width="1.8" />
<line x1="1174.9" y1="2042.5" x2="1174.9" y2="2048" stroke="#000" stroke-width="1.8" />
<line x1="1292.5" y1="2042.5" x2="1292.5" y2="2048" stroke="#000" stroke-width="1.8" />
<line x1="1410" y1="2042.5" x2="1410" y2="2048" stroke="#000" stroke-width="1.8" />
<line x1="1527.6" y1="2042.5" x2="1527.6" y2="2048" stroke="#000" stroke-width="1.8" />
<line x1="1645.2" y1="2042.5" x2="1645.2" y2="2048" stroke="#000" stroke-width="1.8" />
<line x1="998.5" y1="2042.5" x2="998.5" y2="2052.5" stroke="#000" stroke-width="1.8" />
<text transform="translate(998.5,2081.5) scale(1,1.06)" font-size="27.6" text-anchor="middle" >0</text>
<line x1="1116.1" y1="2042.5" x2="1116.1" y2="2052.5" stroke="#000" stroke-width="1.8" />
<text transform="translate(1116.1,2081.5) scale(1,1.06)" font-size="27.6" text-anchor="middle" >100</text>
<line x1="1233.7" y1="2042.5" x2="1233.7" y2="2052.5" stroke="#000" stroke-width="1.8" />
<text transform="translate(1233.7,2081.5) scale(1,1.06)" font-size="27.6" text-anchor="middle" >200</text>
<line x1="1351.2" y1="2042.5" x2="1351.2" y2="2052.5" stroke="#000" stroke-width="1.8" />
<text transform="translate(1351.2,2081.5) scale(1,1.06)" font-size="27.6" text-anchor="middle" >300</text>
<line x1="1468.8" y1="2042.5" x2="1468.8" y2="2052.5" stroke="#000" stroke-width="1.8" />
<text transform="translate(1468.8,2081.5) scale(1,1.06)" font-size="27.6" text-anchor="middle" >400</text>
<line x1="1586.4" y1="2042.5" x2="1586.4" y2="2052.5" stroke="#000" stroke-width="1.8" />
<text transform="translate(1586.4,2081.5) scale(1,1.06)" font-size="27.6" text-anchor="middle" >500</text>
<line x1="998.5" y1="1974.8" x2="993" y2="1974.8" stroke="#000" stroke-width="1.8" />
<line x1="998.5" y1="1884.5" x2="993" y2="1884.5" stroke="#000" stroke-width="1.8" />
<line x1="998.5" y1="1794.2" x2="993" y2="1794.2" stroke="#000" stroke-width="1.8" />
<line x1="998.5" y1="1703.9" x2="993" y2="1703.9" stroke="#000" stroke-width="1.8" />
<line x1="998.5" y1="1613.6" x2="993" y2="1613.6" stroke="#000" stroke-width="1.8" />
<line x1="998.5" y1="1523.3" x2="993" y2="1523.3" stroke="#000" stroke-width="1.8" />
<line x1="998.5" y1="2019.9" x2="988.5" y2="2019.9" stroke="#000" stroke-width="1.8" />
<text transform="translate(982.5,2029.6) scale(1,1.06)" font-size="27.6" text-anchor="end" >0</text>
<line x1="998.5" y1="1929.6" x2="988.5" y2="1929.6" stroke="#000" stroke-width="1.8" />
<text transform="translate(982.5,1939.3) scale(1,1.06)" font-size="27.6" text-anchor="end" >1</text>
<line x1="998.5" y1="1839.3" x2="988.5" y2="1839.3" stroke="#000" stroke-width="1.8" />
<text transform="translate(982.5,1849) scale(1,1.06)" font-size="27.6" text-anchor="end" >2</text>
<line x1="998.5" y1="1749" x2="988.5" y2="1749" stroke="#000" stroke-width="1.8" />
<text transform="translate(982.5,1758.7) scale(1,1.06)" font-size="27.6" text-anchor="end" >3</text>
<line x1="998.5" y1="1658.7" x2="988.5" y2="1658.7" stroke="#000" stroke-width="1.8" />
<text transform="translate(982.5,1668.4) scale(1,1.06)" font-size="27.6" text-anchor="end" >4</text>
<line x1="998.5" y1="1568.4" x2="988.5" y2="1568.4" stroke="#000" stroke-width="1.8" />
<text transform="translate(982.5,1578.1) scale(1,1.06)" font-size="27.6" text-anchor="end" >5</text>
<line x1="1645.2" y1="2042.5" x2="1650.7" y2="2042.5" stroke="#000" stroke-width="1.8" />
<line x1="1645.2" y1="1956" x2="1650.7" y2="1956" stroke="#000" stroke-width="1.8" />
<line x1="1645.2" y1="1869.4" x2="1650.7" y2="1869.4" stroke="#000" stroke-width="1.8" />
<line x1="1645.2" y1="1782.9" x2="1650.7" y2="1782.9" stroke="#000" stroke-width="1.8" />
<line x1="1645.2" y1="1696.4" x2="1650.7" y2="1696.4" stroke="#000" stroke-width="1.8" />
<line x1="1645.2" y1="1609.8" x2="1650.7" y2="1609.8" stroke="#000" stroke-width="1.8" />
<line x1="1645.2" y1="1523.3" x2="1650.7" y2="1523.3" stroke="#000" stroke-width="1.8" />
<line x1="1645.2" y1="1999.2" x2="1655.2" y2="1999.2" stroke="#000" stroke-width="1.8" />
<text transform="translate(1661.2,2008.9) scale(1,1.06)" font-size="27.6" text-anchor="start" >0</text>
<line x1="1645.2" y1="1912.7" x2="1655.2" y2="1912.7" stroke="#000" stroke-width="1.8" />
<text transform="translate(1661.2,1922.4) scale(1,1.06)" font-size="27.6" text-anchor="start" >20</text>
<line x1="1645.2" y1="1826.2" x2="1655.2" y2="1826.2" stroke="#000" stroke-width="1.8" />
<text transform="translate(1661.2,1835.9) scale(1,1.06)" font-size="27.6" text-anchor="start" >40</text>
<line x1="1645.2" y1="1739.6" x2="1655.2" y2="1739.6" stroke="#000" stroke-width="1.8" />
<text transform="translate(1661.2,1749.3) scale(1,1.06)" font-size="27.6" text-anchor="start" >60</text>
<line x1="1645.2" y1="1653.1" x2="1655.2" y2="1653.1" stroke="#000" stroke-width="1.8" />
<text transform="translate(1661.2,1662.8) scale(1,1.06)" font-size="27.6" text-anchor="start" >80</text>
<line x1="1645.2" y1="1566.6" x2="1655.2" y2="1566.6" stroke="#000" stroke-width="1.8" />
<text transform="translate(1661.2,1576.3) scale(1,1.06)" font-size="27.6" text-anchor="start" >100</text>
<text transform="translate(1323.4,2127) scale(1,1.06)" font-size="29.7" text-anchor="middle" >Electric field (MV/m)</text>
<text transform="translate(955.6,1779) rotate(-90) scale(1,1.06)" font-size="29.7" text-anchor="middle">Discharged energy density (J/cm<tspan font-size="19.5" dy="-12">3</tspan><tspan dy="12">)</tspan></text>
<text transform="translate(1739.2,1783) rotate(-90) scale(1,1.06)" font-size="29.7" text-anchor="middle">Charge-discharge efficiency (%)</text>
<path d="M1057.3,1561.2L1116.1,1561.2M1116.1,1561.2L1174.9,1559.3M1174.9,1559.3L1233.7,1560.4M1233.7,1560.4L1292.5,1561.2M1292.5,1561.2L1351.2,1568.7M1351.2,1568.7L1410,1579.2M1410,1579.2L1468.8,1593.8M1468.8,1593.8L1527.6,1650.3M1527.6,1650.3L1586.4,1737.1" fill="none" stroke="#4e85c1" stroke-width="1.6" stroke-dasharray="10.5,9.3" stroke-dashoffset="11.5"/>
<line x1="1468.8" y1="1587.8" x2="1468.8" y2="1599.8" stroke="#4e85c1" stroke-width="1.5" />
<line x1="1462.3" y1="1587.8" x2="1475.3" y2="1587.8" stroke="#4e85c1" stroke-width="1.5" />
<line x1="1462.3" y1="1599.8" x2="1475.3" y2="1599.8" stroke="#4e85c1" stroke-width="1.5" />
<line x1="1527.6" y1="1642.3" x2="1527.6" y2="1658.3" stroke="#4e85c1" stroke-width="1.5" />
<line x1="1521.1" y1="1642.3" x2="1534.1" y2="1642.3" stroke="#4e85c1" stroke-width="1.5" />
<line x1="1521.1" y1="1658.3" x2="1534.1" y2="1658.3" stroke="#4e85c1" stroke-width="1.5" />
<line x1="1586.4" y1="1726.1" x2="1586.4" y2="1748.1" stroke="#4e85c1" stroke-width="1.5" />
<line x1="1579.9" y1="1726.1" x2="1592.9" y2="1726.1" stroke="#4e85c1" stroke-width="1.5" />
<line x1="1579.9" y1="1748.1" x2="1592.9" y2="1748.1" stroke="#4e85c1" stroke-width="1.5" />
<circle cx="1057.3" cy="1561.2" r="6.2" fill="#4e85c1"/>
<circle cx="1116.1" cy="1561.2" r="6.2" fill="#4e85c1"/>
<circle cx="1174.9" cy="1559.3" r="6.2" fill="#4e85c1"/>
<circle cx="1233.7" cy="1560.4" r="6.2" fill="#4e85c1"/>
<circle cx="1292.5" cy="1561.2" r="6.2" fill="#4e85c1"/>
<circle cx="1351.2" cy="1568.7" r="6.2" fill="#4e85c1"/>
<circle cx="1410" cy="1579.2" r="6.2" fill="#4e85c1"/>
<circle cx="1468.8" cy="1593.8" r="6.2" fill="#4e85c1"/>
<circle cx="1527.6" cy="1650.3" r="6.2" fill="#4e85c1"/>
<circle cx="1586.4" cy="1737.1" r="6.2" fill="#4e85c1"/>
<path d="M1057.3,1567.9L1116.1,1568.7M1116.1,1568.7L1174.9,1574.3M1174.9,1574.3L1233.7,1575.4M1233.7,1575.4L1292.5,1575.4M1292.5,1575.4L1351.2,1589.3M1351.2,1589.3L1410,1611.7M1410,1611.7L1468.8,1650.3M1468.8,1650.3L1527.6,1711.7" fill="none" stroke="#05c09c" stroke-width="1.6" stroke-dasharray="10.5,9.3" stroke-dashoffset="11.5"/>
<line x1="1468.8" y1="1642.3" x2="1468.8" y2="1658.3" stroke="#05c09c" stroke-width="1.5" />
<line x1="1462.3" y1="1642.3" x2="1475.3" y2="1642.3" stroke="#05c09c" stroke-width="1.5" />
<line x1="1462.3" y1="1658.3" x2="1475.3" y2="1658.3" stroke="#05c09c" stroke-width="1.5" />
<line x1="1527.6" y1="1699.2" x2="1527.6" y2="1724.2" stroke="#05c09c" stroke-width="1.5" />
<line x1="1521.1" y1="1699.2" x2="1534.1" y2="1699.2" stroke="#05c09c" stroke-width="1.5" />
<line x1="1521.1" y1="1724.2" x2="1534.1" y2="1724.2" stroke="#05c09c" stroke-width="1.5" />
<rect x="1051.4" y="1562" width="11.8" height="11.8" fill="#05c09c"/>
<rect x="1110.2" y="1562.8" width="11.8" height="11.8" fill="#05c09c"/>
<rect x="1169" y="1568.4" width="11.8" height="11.8" fill="#05c09c"/>
<rect x="1227.8" y="1569.5" width="11.8" height="11.8" fill="#05c09c"/>
<rect x="1286.6" y="1569.5" width="11.8" height="11.8" fill="#05c09c"/>
<rect x="1345.4" y="1583.4" width="11.8" height="11.8" fill="#05c09c"/>
<rect x="1404.1" y="1605.8" width="11.8" height="11.8" fill="#05c09c"/>
<rect x="1462.9" y="1644.4" width="11.8" height="11.8" fill="#05c09c"/>
<rect x="1521.7" y="1705.8" width="11.8" height="11.8" fill="#05c09c"/>
<polyline points="1057.3,2016.6 1116.1,2006.5 1174.9,1988.5 1233.7,1967.2 1292.5,1935.4 1351.2,1903.5 1410,1866.9 1468.8,1831.3 1527.6,1796.8 1586.4,1771.6" fill="none" stroke="#4e85c1" stroke-width="1.6" stroke-linejoin="round"/>
<line x1="1527.6" y1="1791.8" x2="1527.6" y2="1801.8" stroke="#4e85c1" stroke-width="1.5" />
<line x1="1521.1" y1="1791.8" x2="1534.1" y2="1791.8" stroke="#4e85c1" stroke-width="1.5" />
<line x1="1521.1" y1="1801.8" x2="1534.1" y2="1801.8" stroke="#4e85c1" stroke-width="1.5" />
<line x1="1586.4" y1="1763.6" x2="1586.4" y2="1779.6" stroke="#4e85c1" stroke-width="1.5" />
<line x1="1579.9" y1="1763.6" x2="1592.9" y2="1763.6" stroke="#4e85c1" stroke-width="1.5" />
<line x1="1579.9" y1="1779.6" x2="1592.9" y2="1779.6" stroke="#4e85c1" stroke-width="1.5" />
<circle cx="1057.3" cy="2016.6" r="6.2" fill="#4e85c1"/>
<circle cx="1116.1" cy="2006.5" r="6.2" fill="#4e85c1"/>
<circle cx="1174.9" cy="1988.5" r="6.2" fill="#4e85c1"/>
<circle cx="1233.7" cy="1967.2" r="6.2" fill="#4e85c1"/>
<circle cx="1292.5" cy="1935.4" r="6.2" fill="#4e85c1"/>
<circle cx="1351.2" cy="1903.5" r="6.2" fill="#4e85c1"/>
<circle cx="1410" cy="1866.9" r="6.2" fill="#4e85c1"/>
<circle cx="1468.8" cy="1831.3" r="6.2" fill="#4e85c1"/>
<circle cx="1527.6" cy="1796.8" r="6.2" fill="#4e85c1"/>
<circle cx="1586.4" cy="1771.6" r="6.2" fill="#4e85c1"/>
<polyline points="1057.3,2017.7 1116.1,2009.1 1174.9,1995.3 1233.7,1973.9 1292.5,1946.6 1351.2,1916.7 1410,1883 1468.8,1851.1 1527.6,1829.4" fill="none" stroke="#05c09c" stroke-width="1.6" stroke-linejoin="round"/>
<rect x="1051.4" y="2011.8" width="11.8" height="11.8" fill="#05c09c"/>
<rect x="1110.2" y="2003.2" width="11.8" height="11.8" fill="#05c09c"/>
<rect x="1169" y="1989.4" width="11.8" height="11.8" fill="#05c09c"/>
<rect x="1227.8" y="1968" width="11.8" height="11.8" fill="#05c09c"/>
<rect x="1286.6" y="1940.7" width="11.8" height="11.8" fill="#05c09c"/>
<rect x="1345.4" y="1910.8" width="11.8" height="11.8" fill="#05c09c"/>
<rect x="1404.1" y="1877.1" width="11.8" height="11.8" fill="#05c09c"/>
<rect x="1462.9" y="1845.2" width="11.8" height="11.8" fill="#05c09c"/>
<rect x="1521.7" y="1823.5" width="11.8" height="11.8" fill="#05c09c"/>
<ellipse cx="1117.8" cy="1578" rx="22.5" ry="39.3" fill="none" stroke="#000" stroke-width="1.9" stroke-dasharray="13,8.5"/>
<line x1="1130.9" y1="1618.1" x2="1159" y2="1618.1" stroke="#000" stroke-width="1.8" />
<polygon points="1174,1618.1 1157,1622.4 1157,1613.8" fill="#000"/>
<ellipse cx="1230.9" cy="1976.6" rx="23.2" ry="39.3" fill="none" stroke="#000" stroke-width="1.9" stroke-dasharray="13,8.5"/>
<line x1="1215.9" y1="1939.5" x2="1188.2" y2="1938.5" stroke="#000" stroke-width="1.8" />
<polygon points="1173.2,1938 1190.3,1934.3 1190,1942.9" fill="#000"/>
<line x1="1063.5" y1="1742.8" x2="1124.5" y2="1742.8" stroke="#05c09c" stroke-width="1.6" />
<rect x="1087.6" y="1736.9" width="11.8" height="11.8" fill="#05c09c"/>
<text transform="translate(1130.8,1752.4) scale(1,1.06)" font-size="27.7" text-anchor="start" >PI-oxo-iso</text>
<line x1="1063.5" y1="1775.7" x2="1124.5" y2="1775.7" stroke="#4e85c1" stroke-width="1.6" />
<circle cx="1093.5" cy="1775.7" r="6.2" fill="#4e85c1"/>
<text transform="translate(1130.8,1785.3) scale(1,1.06)" font-size="27.7" text-anchor="start" >PI-CF<tspan font-size="18.5" dy="7.5">3</tspan><tspan dy="-7.5">​</tspan>-iso</text>
<text transform="translate(1593.5,1991.5) scale(1,1.06)" font-size="27.4" text-anchor="end" >@ 250 °C, 100 Hz</text>
<text transform="translate(885,755) scale(1,1.04)" font-size="43.5" font-weight="bold">d</text>
<rect x="1148.1" y="1065.2" width="19" height="271.2" fill="url(#gOr)"/>
<rect x="1167.1" y="963.3" width="19.3" height="373.1" fill="url(#gGr)"/>
<line x1="1148.1" y1="1065.2" x2="1167.1" y2="1065.2" stroke="#333" stroke-width="1.4" />
<line x1="1167.1" y1="963.3" x2="1186.4" y2="963.3" stroke="#222" stroke-width="1.4" />
<line x1="1186.4" y1="963.3" x2="1186.4" y2="1336.4" stroke="#111" stroke-width="1.5" />
<line x1="1167.1" y1="1065.2" x2="1167.1" y2="1336.4" stroke="#a0a0a0" stroke-width="1.1" />
<rect x="1338.7" y="889" width="19.2" height="447.4" fill="url(#gOr)"/>
<rect x="1357.9" y="973.7" width="18.7" height="362.7" fill="url(#gGr)"/>
<line x1="1338.7" y1="889" x2="1357.9" y2="889" stroke="#333" stroke-width="1.4" />
<line x1="1357.9" y1="973.7" x2="1376.6" y2="973.7" stroke="#222" stroke-width="1.4" />
<line x1="1376.6" y1="973.7" x2="1376.6" y2="1336.4" stroke="#111" stroke-width="1.5" />
<line x1="1357.9" y1="889" x2="1357.9" y2="973.7" stroke="#333" stroke-width="1.2" />
<line x1="1357.9" y1="973.7" x2="1357.9" y2="1336.4" stroke="#a0a0a0" stroke-width="1.1" />
<rect x="1529.1" y="859.7" width="18.8" height="476.7" fill="url(#gOr)"/>
<rect x="1547.9" y="969.5" width="19.1" height="366.9" fill="url(#gGr)"/>
<line x1="1529.1" y1="859.7" x2="1547.9" y2="859.7" stroke="#333" stroke-width="1.4" />
<line x1="1547.9" y1="969.5" x2="1567" y2="969.5" stroke="#222" stroke-width="1.4" />
<line x1="1567" y1="969.5" x2="1567" y2="1336.4" stroke="#111" stroke-width="1.5" />
<line x1="1547.9" y1="859.7" x2="1547.9" y2="969.5" stroke="#333" stroke-width="1.2" />
<line x1="1547.9" y1="969.5" x2="1547.9" y2="1336.4" stroke="#a0a0a0" stroke-width="1.1" />
<polygon points="1004.5,1085.2 1014.8,1075.3 1014.8,1080.2 1146,1080.2 1146,1090.3 1014.8,1090.3 1014.8,1095.3" fill="url(#gArO)"/>
<polygon points="1629.6,1017.9 1620.6,1009.2 1620.6,1013.3 1572.3,1013.3 1572.3,1022.6 1620.6,1022.6 1620.6,1026.8" fill="url(#gArG)"/>
<rect x="996.1" y="818.2" width="646.3" height="518.2" fill="none" stroke="#000" stroke-width="1.5"/>
<line x1="996.1" y1="1336.4" x2="986.6" y2="1336.4" stroke="#000" stroke-width="1.5" />
<text transform="translate(978.1,1346) scale(1,1.06)" font-size="27.6" text-anchor="end" >0</text>
<line x1="996.1" y1="1293.2" x2="991.1" y2="1293.2" stroke="#000" stroke-width="1.5" />
<line x1="996.1" y1="1250" x2="986.6" y2="1250" stroke="#000" stroke-width="1.5" />
<text transform="translate(978.1,1259.6) scale(1,1.06)" font-size="27.6" text-anchor="end" >50</text>
<line x1="996.1" y1="1206.9" x2="991.1" y2="1206.9" stroke="#000" stroke-width="1.5" />
<line x1="996.1" y1="1163.7" x2="986.6" y2="1163.7" stroke="#000" stroke-width="1.5" />
<text transform="translate(978.1,1173.3) scale(1,1.06)" font-size="27.6" text-anchor="end" >100</text>
<line x1="996.1" y1="1120.5" x2="991.1" y2="1120.5" stroke="#000" stroke-width="1.5" />
<line x1="996.1" y1="1077.3" x2="986.6" y2="1077.3" stroke="#000" stroke-width="1.5" />
<text transform="translate(978.1,1086.9) scale(1,1.06)" font-size="27.6" text-anchor="end" >150</text>
<line x1="996.1" y1="1034.1" x2="991.1" y2="1034.1" stroke="#000" stroke-width="1.5" />
<line x1="996.1" y1="990.9" x2="986.6" y2="990.9" stroke="#000" stroke-width="1.5" />
<text transform="translate(978.1,1000.5) scale(1,1.06)" font-size="27.6" text-anchor="end" >200</text>
<line x1="996.1" y1="947.8" x2="991.1" y2="947.8" stroke="#000" stroke-width="1.5" />
<line x1="996.1" y1="904.6" x2="986.6" y2="904.6" stroke="#000" stroke-width="1.5" />
<text transform="translate(978.1,914.2) scale(1,1.06)" font-size="27.6" text-anchor="end" >250</text>
<line x1="996.1" y1="861.4" x2="991.1" y2="861.4" stroke="#000" stroke-width="1.5" />
<line x1="996.1" y1="818.2" x2="986.6" y2="818.2" stroke="#000" stroke-width="1.5" />
<text transform="translate(978.1,827.8) scale(1,1.06)" font-size="27.6" text-anchor="end" >300</text>
<line x1="1642.4" y1="1336.4" x2="1652.4" y2="1336.4" stroke="#000" stroke-width="1.5" />
<text transform="translate(1659.9,1346) scale(1,1.06)" font-size="27.6" text-anchor="start" >0</text>
<line x1="1642.4" y1="1284.6" x2="1647.4" y2="1284.6" stroke="#000" stroke-width="1.5" />
<line x1="1642.4" y1="1232.8" x2="1652.4" y2="1232.8" stroke="#000" stroke-width="1.5" />
<text transform="translate(1659.9,1242.4) scale(1,1.06)" font-size="27.6" text-anchor="start" >1</text>
<line x1="1642.4" y1="1180.9" x2="1647.4" y2="1180.9" stroke="#000" stroke-width="1.5" />
<line x1="1642.4" y1="1129.1" x2="1652.4" y2="1129.1" stroke="#000" stroke-width="1.5" />
<text transform="translate(1659.9,1138.7) scale(1,1.06)" font-size="27.6" text-anchor="start" >2</text>
<line x1="1642.4" y1="1077.3" x2="1647.4" y2="1077.3" stroke="#000" stroke-width="1.5" />
<line x1="1642.4" y1="1025.5" x2="1652.4" y2="1025.5" stroke="#000" stroke-width="1.5" />
<text transform="translate(1659.9,1035.1) scale(1,1.06)" font-size="27.6" text-anchor="start" >3</text>
<line x1="1642.4" y1="973.7" x2="1647.4" y2="973.7" stroke="#000" stroke-width="1.5" />
<line x1="1642.4" y1="921.8" x2="1652.4" y2="921.8" stroke="#000" stroke-width="1.5" />
<text transform="translate(1659.9,931.4) scale(1,1.06)" font-size="27.6" text-anchor="start" >4</text>
<line x1="1642.4" y1="870" x2="1647.4" y2="870" stroke="#000" stroke-width="1.5" />
<line x1="1642.4" y1="818.2" x2="1652.4" y2="818.2" stroke="#000" stroke-width="1.5" />
<text transform="translate(1659.9,827.8) scale(1,1.06)" font-size="27.6" text-anchor="start" >5</text>
<line x1="1167.8" y1="1336.4" x2="1167.8" y2="1346.4" stroke="#000" stroke-width="1.5" />
<text transform="translate(1167.8,1383.8) scale(1,1.06)" font-size="29.7" text-anchor="middle" >PEI-iso</text>
<line x1="1357.5" y1="1336.4" x2="1357.5" y2="1346.4" stroke="#000" stroke-width="1.5" />
<text transform="translate(1357.5,1383.8) scale(1,1.06)" font-size="29.7" text-anchor="middle" >PI-oxo-iso</text>
<line x1="1547.9" y1="1336.4" x2="1547.9" y2="1346.4" stroke="#000" stroke-width="1.5" />
<text transform="translate(1547.9,1383.8) scale(1,1.06)" font-size="29.7" text-anchor="middle" >PI-CF<tspan font-size="19.5" dy="7.5">3</tspan><tspan dy="-7.5">-iso</tspan></text>
<text transform="translate(913.6,1062.5) rotate(-90) scale(1,1.06)" font-size="29.7" text-anchor="middle">Glass transition temperature (°C)</text>
<text transform="translate(1719.6,1072) rotate(-90) scale(1,1.06)" font-size="29.7" text-anchor="middle">Band gap (eV)</text>
<line x1="1090.6" y1="825.1" x2="1090.6" y2="835" stroke="#262626" stroke-width="1.15" stroke-linecap="round"/>
<line x1="1082.7" y1="830.8" x2="1098.5" y2="830.8" stroke="#262626" stroke-width="1.15" stroke-linecap="round"/>
<line x1="1082.7" y1="830.8" x2="1082.7" y2="833.2" stroke="#262626" stroke-width="1.15" stroke-linecap="round"/>
<line x1="1098.5" y1="830.8" x2="1098.5" y2="833.2" stroke="#262626" stroke-width="1.15" stroke-linecap="round"/>
<polygon points="1082.4,868 1098.9,868 1107.2,882.3 1098.9,896.6 1082.4,896.6 1074.2,882.3" fill="none" stroke="#262626" stroke-width="1.15" stroke-linejoin="round"/>
<line x1="1085.2" y1="871.3" x2="1096.1" y2="871.3" stroke="#262626" stroke-width="1.15" stroke-linecap="round"/>
<line x1="1078.4" y1="883.1" x2="1083.9" y2="892.5" stroke="#262626" stroke-width="1.15" stroke-linecap="round"/>
<line x1="1102.9" y1="883.1" x2="1097.4" y2="892.5" stroke="#262626" stroke-width="1.15" stroke-linecap="round"/>
<line x1="1082.4" y1="868" x2="1077.3" y2="852.3" stroke="#262626" stroke-width="1.15" stroke-linecap="round"/>
<line x1="1098.9" y1="868" x2="1104" y2="852.3" stroke="#262626" stroke-width="1.15" stroke-linecap="round"/>
<line x1="1077.3" y1="852.3" x2="1085.4" y2="845.5" stroke="#262626" stroke-width="1.15" stroke-linecap="round"/>
<line x1="1104" y1="852.3" x2="1095.9" y2="845.5" stroke="#262626" stroke-width="1.15" stroke-linecap="round"/>
<text x="1090.7" y="845.6" font-size="12.5" text-anchor="middle" fill="#3050f8" style="fill:#3050f8">N</text>
<line x1="1077.3" y1="852.3" x2="1068.1" y2="849.3" stroke="#262626" stroke-width="1.15" stroke-linecap="round"/>
<line x1="1075.1" y1="853.8" x2="1067.5" y2="851.4" stroke="#262626" stroke-width="1.15" stroke-linecap="round"/>
<text x="1061.6" y="851.7" font-size="12.5" text-anchor="middle" fill="#ff0d0d" style="fill:#ff0d0d">O</text>
<line x1="1104" y1="852.3" x2="1113.2" y2="849.3" stroke="#262626" stroke-width="1.15" stroke-linecap="round"/>
<line x1="1106.2" y1="853.8" x2="1113.8" y2="851.4" stroke="#262626" stroke-width="1.15" stroke-linecap="round"/>
<text x="1119.7" y="851.7" font-size="12.5" text-anchor="middle" fill="#ff0d0d" style="fill:#ff0d0d">O</text>
<line x1="1082.4" y1="896.6" x2="1082.4" y2="906.9" stroke="#262626" stroke-width="1.15" stroke-linecap="round"/>
<text x="1082.4" y="917.9" font-size="12.5" text-anchor="middle" fill="#ff0d0d" style="fill:#ff0d0d">O</text>
<line x1="1082.4" y1="919.9" x2="1082.4" y2="931.5" stroke="#262626" stroke-width="1.15" stroke-linecap="round"/>
<polygon points="1082.4,931.5 1096.8,939.8 1096.8,956.4 1082.4,964.7 1068,956.4 1068,939.8" fill="none" stroke="#262626" stroke-width="1.15" stroke-linejoin="round"/>
<line x1="1072.1" y1="941.3" x2="1081.6" y2="935.8" stroke="#262626" stroke-width="1.15" stroke-linecap="round"/>
<line x1="1093.5" y1="942.6" x2="1093.5" y2="953.6" stroke="#262626" stroke-width="1.15" stroke-linecap="round"/>
<line x1="1081.6" y1="960.4" x2="1072.1" y2="954.9" stroke="#262626" stroke-width="1.15" stroke-linecap="round"/>
<line x1="1082.4" y1="964.7" x2="1082.4" y2="999.1" stroke="#262626" stroke-width="1.15" stroke-linecap="round"/>
<line x1="1065.6" y1="982" x2="1099.2" y2="982" stroke="#262626" stroke-width="1.15" stroke-linecap="round"/>
<polygon points="1082.4,999.1 1096.8,1007.4 1096.8,1024 1082.4,1032.3 1068,1024 1068,1007.4" fill="none" stroke="#262626" stroke-width="1.15" stroke-linejoin="round"/>
<line x1="1072.1" y1="1008.9" x2="1081.6" y2="1003.4" stroke="#262626" stroke-width="1.15" stroke-linecap="round"/>
<line x1="1093.5" y1="1010.2" x2="1093.5" y2="1021.2" stroke="#262626" stroke-width="1.15" stroke-linecap="round"/>
<line x1="1081.6" y1="1028" x2="1072.1" y2="1022.5" stroke="#262626" stroke-width="1.15" stroke-linecap="round"/>
<line x1="1082.4" y1="1032.3" x2="1082.6" y2="1041.8" stroke="#262626" stroke-width="1.15" stroke-linecap="round"/>
<text x="1082.6" y="1052.8" font-size="12.5" text-anchor="middle" fill="#ff0d0d" style="fill:#ff0d0d">O</text>
<line x1="1082.6" y1="1054.8" x2="1082.6" y2="1066.2" stroke="#262626" stroke-width="1.15" stroke-linecap="round"/>
<polygon points="1082.6,1066.2 1099.1,1066.2 1107.3,1080.5 1099.1,1094.8 1082.6,1094.8 1074.3,1080.5" fill="none" stroke="#262626" stroke-width="1.15" stroke-linejoin="round"/>
<line x1="1085.4" y1="1091.5" x2="1096.3" y2="1091.5" stroke="#262626" stroke-width="1.15" stroke-linecap="round"/>
<line x1="1078.6" y1="1079.7" x2="1084.1" y2="1070.3" stroke="#262626" stroke-width="1.15" stroke-linecap="round"/>
<line x1="1103.1" y1="1079.7" x2="1097.6" y2="1070.3" stroke="#262626" stroke-width="1.15" stroke-linecap="round"/>
<line x1="1082.6" y1="1094.8" x2="1077.5" y2="1110.5" stroke="#262626" stroke-width="1.15" stroke-linecap="round"/>
<line x1="1099.1" y1="1094.8" x2="1104.2" y2="1110.5" stroke="#262626" stroke-width="1.15" stroke-linecap="round"/>
<line x1="1077.5" y1="1110.5" x2="1085.6" y2="1117.3" stroke="#262626" stroke-width="1.15" stroke-linecap="round"/>
<line x1="1104.2" y1="1110.5" x2="1096.1" y2="1117.3" stroke="#262626" stroke-width="1.15" stroke-linecap="round"/>
<text x="1090.8" y="1126.2" font-size="12.5" text-anchor="middle" fill="#3050f8" style="fill:#3050f8">N</text>
<line x1="1077.5" y1="1110.5" x2="1068.3" y2="1113.5" stroke="#262626" stroke-width="1.15" stroke-linecap="round"/>
<line x1="1075.3" y1="1109" x2="1067.7" y2="1111.4" stroke="#262626" stroke-width="1.15" stroke-linecap="round"/>
<text x="1061.8" y="1120.1" font-size="12.5" text-anchor="middle" fill="#ff0d0d" style="fill:#ff0d0d">O</text>
<line x1="1104.2" y1="1110.5" x2="1113.4" y2="1113.5" stroke="#262626" stroke-width="1.15" stroke-linecap="round"/>
<line x1="1106.4" y1="1109" x2="1114" y2="1111.4" stroke="#262626" stroke-width="1.15" stroke-linecap="round"/>
<text x="1119.9" y="1120.1" font-size="12.5" text-anchor="middle" fill="#ff0d0d" style="fill:#ff0d0d">O</text>
<line x1="1091.4" y1="1128.7" x2="1091.4" y2="1139" stroke="#262626" stroke-width="1.15" stroke-linecap="round"/>
<polygon points="1091.4,1139 1105.7,1147.2 1105.7,1163.8 1091.4,1172 1077.1,1163.8 1077.1,1147.2" fill="none" stroke="#262626" stroke-width="1.15" stroke-linejoin="round"/>
<line x1="1081.2" y1="1148.7" x2="1090.6" y2="1143.3" stroke="#262626" stroke-width="1.15" stroke-linecap="round"/>
<line x1="1102.4" y1="1150.1" x2="1102.4" y2="1160.9" stroke="#262626" stroke-width="1.15" stroke-linecap="round"/>
<line x1="1090.6" y1="1167.7" x2="1081.2" y2="1162.3" stroke="#262626" stroke-width="1.15" stroke-linecap="round"/>
<line x1="1091.4" y1="1172" x2="1091.4" y2="1206.2" stroke="#262626" stroke-width="1.15" stroke-linecap="round"/>
<line x1="1074.7" y1="1189.4" x2="1108.1" y2="1189.4" stroke="#262626" stroke-width="1.15" stroke-linecap="round"/>
<polygon points="1091.4,1206.2 1105.8,1214.5 1105.8,1231.1 1091.4,1239.4 1077,1231.1 1077,1214.5" fill="none" stroke="#262626" stroke-width="1.15" stroke-linejoin="round"/>
<line x1="1081.1" y1="1216" x2="1090.6" y2="1210.5" stroke="#262626" stroke-width="1.15" stroke-linecap="round"/>
<line x1="1102.5" y1="1217.3" x2="1102.5" y2="1228.3" stroke="#262626" stroke-width="1.15" stroke-linecap="round"/>
<line x1="1090.6" y1="1235.1" x2="1081.1" y2="1229.6" stroke="#262626" stroke-width="1.15" stroke-linecap="round"/>
<line x1="1091.4" y1="1239.4" x2="1091.4" y2="1273.4" stroke="#262626" stroke-width="1.15" stroke-linecap="round"/>
<line x1="1074.6" y1="1256.7" x2="1108.2" y2="1256.7" stroke="#262626" stroke-width="1.15" stroke-linecap="round"/>
<polygon points="1091.4,1273.4 1105.9,1281.8 1105.9,1298.6 1091.4,1307 1076.9,1298.6 1076.9,1281.8" fill="none" stroke="#262626" stroke-width="1.15" stroke-linejoin="round"/>
<line x1="1081" y1="1283.3" x2="1090.6" y2="1277.7" stroke="#262626" stroke-width="1.15" stroke-linecap="round"/>
<line x1="1102.6" y1="1284.7" x2="1102.6" y2="1295.7" stroke="#262626" stroke-width="1.15" stroke-linecap="round"/>
<line x1="1090.6" y1="1302.7" x2="1081" y2="1297.1" stroke="#262626" stroke-width="1.15" stroke-linecap="round"/>
<line x1="1091.4" y1="1307" x2="1091.4" y2="1324.1" stroke="#262626" stroke-width="1.15" stroke-linecap="round"/>
<line x1="1084.1" y1="1315.9" x2="1098.7" y2="1315.9" stroke="#262626" stroke-width="1.15" stroke-linecap="round"/>
<line x1="1084.1" y1="1315.9" x2="1084.1" y2="1313.5" stroke="#262626" stroke-width="1.15" stroke-linecap="round"/>
<line x1="1098.7" y1="1315.9" x2="1098.7" y2="1313.5" stroke="#262626" stroke-width="1.15" stroke-linecap="round"/>
<text transform="translate(1079.5,1323.5) rotate(90)" font-size="12" text-anchor="middle">n</text>
<line x1="1270" y1="844.9" x2="1270" y2="857" stroke="#262626" stroke-width="1.35" stroke-linecap="round"/>
<line x1="1259.8" y1="850.8" x2="1280.2" y2="850.8" stroke="#262626" stroke-width="1.35" stroke-linecap="round"/>
<line x1="1259.8" y1="850.8" x2="1259.8" y2="853.2" stroke="#262626" stroke-width="1.35" stroke-linecap="round"/>
<line x1="1280.2" y1="850.8" x2="1280.2" y2="853.2" stroke="#262626" stroke-width="1.35" stroke-linecap="round"/>
<polygon points="1259.5,899.1 1280.5,899.1 1291.1,917.4 1280.5,935.7 1259.5,935.7 1248.9,917.4" fill="none" stroke="#262626" stroke-width="1.35" stroke-linejoin="round"/>
<line x1="1263" y1="903.3" x2="1277" y2="903.3" stroke="#262626" stroke-width="1.35" stroke-linecap="round"/>
<line x1="1254.3" y1="918.4" x2="1261.3" y2="930.5" stroke="#262626" stroke-width="1.35" stroke-linecap="round"/>
<line x1="1285.7" y1="918.4" x2="1278.7" y2="930.5" stroke="#262626" stroke-width="1.35" stroke-linecap="round"/>
<line x1="1259.5" y1="899.1" x2="1252.9" y2="879.1" stroke="#262626" stroke-width="1.35" stroke-linecap="round"/>
<line x1="1280.5" y1="899.1" x2="1287.1" y2="879.1" stroke="#262626" stroke-width="1.35" stroke-linecap="round"/>
<line x1="1252.9" y1="879.1" x2="1263.5" y2="870.2" stroke="#262626" stroke-width="1.35" stroke-linecap="round"/>
<line x1="1287.1" y1="879.1" x2="1276.5" y2="870.2" stroke="#262626" stroke-width="1.35" stroke-linecap="round"/>
<text x="1270" y="870.3" font-size="15.5" text-anchor="middle" fill="#3050f8" style="fill:#3050f8">N</text>
<line x1="1252.9" y1="879.1" x2="1241" y2="875.2" stroke="#262626" stroke-width="1.35" stroke-linecap="round"/>
<line x1="1250.1" y1="881" x2="1240.1" y2="877.8" stroke="#262626" stroke-width="1.35" stroke-linecap="round"/>
<text x="1232.9" y="878.1" font-size="15.5" text-anchor="middle" fill="#ff0d0d" style="fill:#ff0d0d">O</text>
<line x1="1287.1" y1="879.1" x2="1299" y2="875.2" stroke="#262626" stroke-width="1.35" stroke-linecap="round"/>
<line x1="1289.9" y1="881" x2="1299.9" y2="877.8" stroke="#262626" stroke-width="1.35" stroke-linecap="round"/>
<text x="1307.1" y="878.1" font-size="15.5" text-anchor="middle" fill="#ff0d0d" style="fill:#ff0d0d">O</text>
<line x1="1259.5" y1="935.7" x2="1259.5" y2="947.8" stroke="#262626" stroke-width="1.35" stroke-linecap="round"/>
<text x="1259.5" y="961.4" font-size="15.5" text-anchor="middle" fill="#ff0d0d" style="fill:#ff0d0d">O</text>
<line x1="1259.5" y1="963.8" x2="1259.5" y2="979" stroke="#262626" stroke-width="1.35" stroke-linecap="round"/>
<polygon points="1259.5,979 1280.5,979 1291.1,997.3 1280.5,1015.6 1259.5,1015.6 1248.9,997.3" fill="none" stroke="#262626" stroke-width="1.35" stroke-linejoin="round"/>
<line x1="1263" y1="1011.4" x2="1277" y2="1011.4" stroke="#262626" stroke-width="1.35" stroke-linecap="round"/>
<line x1="1254.3" y1="996.3" x2="1261.3" y2="984.2" stroke="#262626" stroke-width="1.35" stroke-linecap="round"/>
<line x1="1285.7" y1="996.3" x2="1278.7" y2="984.2" stroke="#262626" stroke-width="1.35" stroke-linecap="round"/>
<line x1="1259.5" y1="1015.6" x2="1252.9" y2="1035.6" stroke="#262626" stroke-width="1.35" stroke-linecap="round"/>
<line x1="1280.5" y1="1015.6" x2="1287.1" y2="1035.6" stroke="#262626" stroke-width="1.35" stroke-linecap="round"/>
<line x1="1252.9" y1="1035.6" x2="1263.5" y2="1044.5" stroke="#262626" stroke-width="1.35" stroke-linecap="round"/>
<line x1="1287.1" y1="1035.6" x2="1276.5" y2="1044.5" stroke="#262626" stroke-width="1.35" stroke-linecap="round"/>
<text x="1270" y="1055.5" font-size="15.5" text-anchor="middle" fill="#3050f8" style="fill:#3050f8">N</text>
<line x1="1252.9" y1="1035.6" x2="1241" y2="1039.5" stroke="#262626" stroke-width="1.35" stroke-linecap="round"/>
<line x1="1250.1" y1="1033.7" x2="1240.1" y2="1036.9" stroke="#262626" stroke-width="1.35" stroke-linecap="round"/>
<text x="1232.9" y="1047.7" font-size="15.5" text-anchor="middle" fill="#ff0d0d" style="fill:#ff0d0d">O</text>
<line x1="1287.1" y1="1035.6" x2="1299" y2="1039.5" stroke="#262626" stroke-width="1.35" stroke-linecap="round"/>
<line x1="1289.9" y1="1033.7" x2="1299.9" y2="1036.9" stroke="#262626" stroke-width="1.35" stroke-linecap="round"/>
<text x="1307.1" y="1047.7" font-size="15.5" text-anchor="middle" fill="#ff0d0d" style="fill:#ff0d0d">O</text>
<line x1="1270" y1="1059" x2="1270" y2="1070.4" stroke="#262626" stroke-width="1.35" stroke-linecap="round"/>
<polygon points="1270,1070.4 1288.3,1081 1288.3,1102 1270,1112.6 1251.7,1102 1251.7,1081" fill="none" stroke="#262626" stroke-width="1.35" stroke-linejoin="round"/>
<line x1="1256.9" y1="1082.8" x2="1269" y2="1075.8" stroke="#262626" stroke-width="1.35" stroke-linecap="round"/>
<line x1="1284.1" y1="1084.5" x2="1284.1" y2="1098.5" stroke="#262626" stroke-width="1.35" stroke-linecap="round"/>
<line x1="1269" y1="1107.2" x2="1256.9" y2="1100.2" stroke="#262626" stroke-width="1.35" stroke-linecap="round"/>
<line x1="1270" y1="1112.6" x2="1270" y2="1155.7" stroke="#262626" stroke-width="1.35" stroke-linecap="round"/>
<line x1="1248.6" y1="1134.3" x2="1291.4" y2="1134.3" stroke="#262626" stroke-width="1.35" stroke-linecap="round"/>
<polygon points="1270,1155.7 1288.3,1166.2 1288.3,1187.3 1270,1197.9 1251.7,1187.3 1251.7,1166.2" fill="none" stroke="#262626" stroke-width="1.35" stroke-linejoin="round"/>
<line x1="1256.9" y1="1168.1" x2="1269" y2="1161.1" stroke="#262626" stroke-width="1.35" stroke-linecap="round"/>
<line x1="1284.1" y1="1169.8" x2="1284.1" y2="1183.8" stroke="#262626" stroke-width="1.35" stroke-linecap="round"/>
<line x1="1269" y1="1192.5" x2="1256.9" y2="1185.5" stroke="#262626" stroke-width="1.35" stroke-linecap="round"/>
<line x1="1270" y1="1197.9" x2="1270" y2="1241.2" stroke="#262626" stroke-width="1.35" stroke-linecap="round"/>
<line x1="1248.6" y1="1219.6" x2="1291.4" y2="1219.6" stroke="#262626" stroke-width="1.35" stroke-linecap="round"/>
<polygon points="1270,1241.2 1288.3,1251.8 1288.3,1272.8 1270,1283.4 1251.7,1272.8 1251.7,1251.8" fill="none" stroke="#262626" stroke-width="1.35" stroke-linejoin="round"/>
<line x1="1256.9" y1="1253.6" x2="1269" y2="1246.6" stroke="#262626" stroke-width="1.35" stroke-linecap="round"/>
<line x1="1284.1" y1="1255.3" x2="1284.1" y2="1269.3" stroke="#262626" stroke-width="1.35" stroke-linecap="round"/>
<line x1="1269" y1="1278" x2="1256.9" y2="1271" stroke="#262626" stroke-width="1.35" stroke-linecap="round"/>
<line x1="1270" y1="1283.4" x2="1270" y2="1304.8" stroke="#262626" stroke-width="1.35" stroke-linecap="round"/>
<line x1="1260.1" y1="1293.3" x2="1279.9" y2="1293.3" stroke="#262626" stroke-width="1.35" stroke-linecap="round"/>
<line x1="1260.1" y1="1293.3" x2="1260.1" y2="1290.9" stroke="#262626" stroke-width="1.35" stroke-linecap="round"/>
<line x1="1279.9" y1="1293.3" x2="1279.9" y2="1290.9" stroke="#262626" stroke-width="1.35" stroke-linecap="round"/>
<text transform="translate(1254.5,1302.5) rotate(90)" font-size="15" text-anchor="middle">n</text>
<line x1="1473.3" y1="844.9" x2="1473.3" y2="857" stroke="#262626" stroke-width="1.35" stroke-linecap="round"/>
<line x1="1463.1" y1="852.5" x2="1483.5" y2="852.5" stroke="#262626" stroke-width="1.35" stroke-linecap="round"/>
<line x1="1463.1" y1="852.5" x2="1463.1" y2="854.9" stroke="#262626" stroke-width="1.35" stroke-linecap="round"/>
<line x1="1483.5" y1="852.5" x2="1483.5" y2="854.9" stroke="#262626" stroke-width="1.35" stroke-linecap="round"/>
<polygon points="1462.8,899.1 1483.8,899.1 1494.4,917.4 1483.8,935.7 1462.8,935.7 1452.2,917.4" fill="none" stroke="#262626" stroke-width="1.35" stroke-linejoin="round"/>
<line x1="1466.3" y1="903.3" x2="1480.3" y2="903.3" stroke="#262626" stroke-width="1.35" stroke-linecap="round"/>
<line x1="1457.6" y1="918.4" x2="1464.6" y2="930.5" stroke="#262626" stroke-width="1.35" stroke-linecap="round"/>
<line x1="1489" y1="918.4" x2="1482" y2="930.5" stroke="#262626" stroke-width="1.35" stroke-linecap="round"/>
<line x1="1462.8" y1="899.1" x2="1456.2" y2="879.1" stroke="#262626" stroke-width="1.35" stroke-linecap="round"/>
<line x1="1483.8" y1="899.1" x2="1490.4" y2="879.1" stroke="#262626" stroke-width="1.35" stroke-linecap="round"/>
<line x1="1456.2" y1="879.1" x2="1466.8" y2="870.2" stroke="#262626" stroke-width="1.35" stroke-linecap="round"/>
<line x1="1490.4" y1="879.1" x2="1479.8" y2="870.2" stroke="#262626" stroke-width="1.35" stroke-linecap="round"/>
<text x="1473.3" y="870.3" font-size="15.5" text-anchor="middle" fill="#3050f8" style="fill:#3050f8">N</text>
<line x1="1456.2" y1="879.1" x2="1444.3" y2="875.2" stroke="#262626" stroke-width="1.35" stroke-linecap="round"/>
<line x1="1453.4" y1="881" x2="1443.4" y2="877.8" stroke="#262626" stroke-width="1.35" stroke-linecap="round"/>
<text x="1436.2" y="878.1" font-size="15.5" text-anchor="middle" fill="#ff0d0d" style="fill:#ff0d0d">O</text>
<line x1="1490.4" y1="879.1" x2="1502.3" y2="875.2" stroke="#262626" stroke-width="1.35" stroke-linecap="round"/>
<line x1="1493.2" y1="881" x2="1503.2" y2="877.8" stroke="#262626" stroke-width="1.35" stroke-linecap="round"/>
<text x="1510.4" y="878.1" font-size="15.5" text-anchor="middle" fill="#ff0d0d" style="fill:#ff0d0d">O</text>
<line x1="1462.8" y1="935.7" x2="1462.8" y2="979" stroke="#262626" stroke-width="1.35" stroke-linecap="round"/>
<line x1="1449.2" y1="957.3" x2="1476.3" y2="957.3" stroke="#262626" stroke-width="1.35" stroke-linecap="round"/>
<text x="1446.3" y="962.2" font-size="14.5" text-anchor="end">F<tspan font-size="10" dy="3.5">3</tspan><tspan dy="-3.5">C</tspan></text>
<text x="1479.3" y="962.2" font-size="14.5" text-anchor="start">CF<tspan font-size="10" dy="3.5">3</tspan></text>
<polygon points="1462.8,979 1483.8,979 1494.4,997.3 1483.8,1015.6 1462.8,1015.6 1452.2,997.3" fill="none" stroke="#262626" stroke-width="1.35" stroke-linejoin="round"/>
<line x1="1466.3" y1="1011.4" x2="1480.3" y2="1011.4" stroke="#262626" stroke-width="1.35" stroke-linecap="round"/>
<line x1="1457.6" y1="996.3" x2="1464.6" y2="984.2" stroke="#262626" stroke-width="1.35" stroke-linecap="round"/>
<line x1="1489" y1="996.3" x2="1482" y2="984.2" stroke="#262626" stroke-width="1.35" stroke-linecap="round"/>
<line x1="1462.8" y1="1015.6" x2="1456.2" y2="1035.6" stroke="#262626" stroke-width="1.35" stroke-linecap="round"/>
<line x1="1483.8" y1="1015.6" x2="1490.4" y2="1035.6" stroke="#262626" stroke-width="1.35" stroke-linecap="round"/>
<line x1="1456.2" y1="1035.6" x2="1466.8" y2="1044.5" stroke="#262626" stroke-width="1.35" stroke-linecap="round"/>
<line x1="1490.4" y1="1035.6" x2="1479.8" y2="1044.5" stroke="#262626" stroke-width="1.35" stroke-linecap="round"/>
<text x="1473.3" y="1055.5" font-size="15.5" text-anchor="middle" fill="#3050f8" style="fill:#3050f8">N</text>
<line x1="1456.2" y1="1035.6" x2="1444.3" y2="1039.5" stroke="#262626" stroke-width="1.35" stroke-linecap="round"/>
<line x1="1453.4" y1="1033.7" x2="1443.4" y2="1036.9" stroke="#262626" stroke-width="1.35" stroke-linecap="round"/>
<text x="1436.2" y="1047.7" font-size="15.5" text-anchor="middle" fill="#ff0d0d" style="fill:#ff0d0d">O</text>
<line x1="1490.4" y1="1035.6" x2="1502.3" y2="1039.5" stroke="#262626" stroke-width="1.35" stroke-linecap="round"/>
<line x1="1493.2" y1="1033.7" x2="1503.2" y2="1036.9" stroke="#262626" stroke-width="1.35" stroke-linecap="round"/>
<text x="1510.4" y="1047.7" font-size="15.5" text-anchor="middle" fill="#ff0d0d" style="fill:#ff0d0d">O</text>
<line x1="1473.3" y1="1059" x2="1473.3" y2="1070.4" stroke="#262626" stroke-width="1.35" stroke-linecap="round"/>
<polygon points="1473.3,1070.4 1491.6,1081 1491.6,1102 1473.3,1112.6 1455,1102 1455,1081" fill="none" stroke="#262626" stroke-width="1.35" stroke-linejoin="round"/>
<line x1="1460.2" y1="1082.8" x2="1472.3" y2="1075.8" stroke="#262626" stroke-width="1.35" stroke-linecap="round"/>
<line x1="1487.4" y1="1084.5" x2="1487.4" y2="1098.5" stroke="#262626" stroke-width="1.35" stroke-linecap="round"/>
<line x1="1472.3" y1="1107.2" x2="1460.2" y2="1100.2" stroke="#262626" stroke-width="1.35" stroke-linecap="round"/>
<line x1="1473.3" y1="1112.6" x2="1473.3" y2="1155.7" stroke="#262626" stroke-width="1.35" stroke-linecap="round"/>
<line x1="1451.9" y1="1134.3" x2="1494.7" y2="1134.3" stroke="#262626" stroke-width="1.35" stroke-linecap="round"/>
<polygon points="1473.3,1155.7 1491.6,1166.2 1491.6,1187.3 1473.3,1197.9 1455,1187.3 1455,1166.2" fill="none" stroke="#262626" stroke-width="1.35" stroke-linejoin="round"/>
<line x1="1460.2" y1="1168.1" x2="1472.3" y2="1161.1" stroke="#262626" stroke-width="1.35" stroke-linecap="round"/>
<line x1="1487.4" y1="1169.8" x2="1487.4" y2="1183.8" stroke="#262626" stroke-width="1.35" stroke-linecap="round"/>
<line x1="1472.3" y1="1192.5" x2="1460.2" y2="1185.5" stroke="#262626" stroke-width="1.35" stroke-linecap="round"/>
<line x1="1473.3" y1="1197.9" x2="1473.3" y2="1241.2" stroke="#262626" stroke-width="1.35" stroke-linecap="round"/>
<line x1="1451.9" y1="1219.6" x2="1494.7" y2="1219.6" stroke="#262626" stroke-width="1.35" stroke-linecap="round"/>
<polygon points="1473.3,1241.2 1491.6,1251.8 1491.6,1272.8 1473.3,1283.4 1455,1272.8 1455,1251.8" fill="none" stroke="#262626" stroke-width="1.35" stroke-linejoin="round"/>
<line x1="1460.2" y1="1253.6" x2="1472.3" y2="1246.6" stroke="#262626" stroke-width="1.35" stroke-linecap="round"/>
<line x1="1487.4" y1="1255.3" x2="1487.4" y2="1269.3" stroke="#262626" stroke-width="1.35" stroke-linecap="round"/>
<line x1="1472.3" y1="1278" x2="1460.2" y2="1271" stroke="#262626" stroke-width="1.35" stroke-linecap="round"/>
<line x1="1473.3" y1="1283.4" x2="1473.3" y2="1304.8" stroke="#262626" stroke-width="1.35" stroke-linecap="round"/>
<line x1="1463.4" y1="1293.3" x2="1483.2" y2="1293.3" stroke="#262626" stroke-width="1.35" stroke-linecap="round"/>
<line x1="1463.4" y1="1293.3" x2="1463.4" y2="1290.9" stroke="#262626" stroke-width="1.35" stroke-linecap="round"/>
<line x1="1483.2" y1="1293.3" x2="1483.2" y2="1290.9" stroke="#262626" stroke-width="1.35" stroke-linecap="round"/>
<text transform="translate(1457.8,1302.5) rotate(90)" font-size="15" text-anchor="middle">n</text>
</svg>
</body></html>
